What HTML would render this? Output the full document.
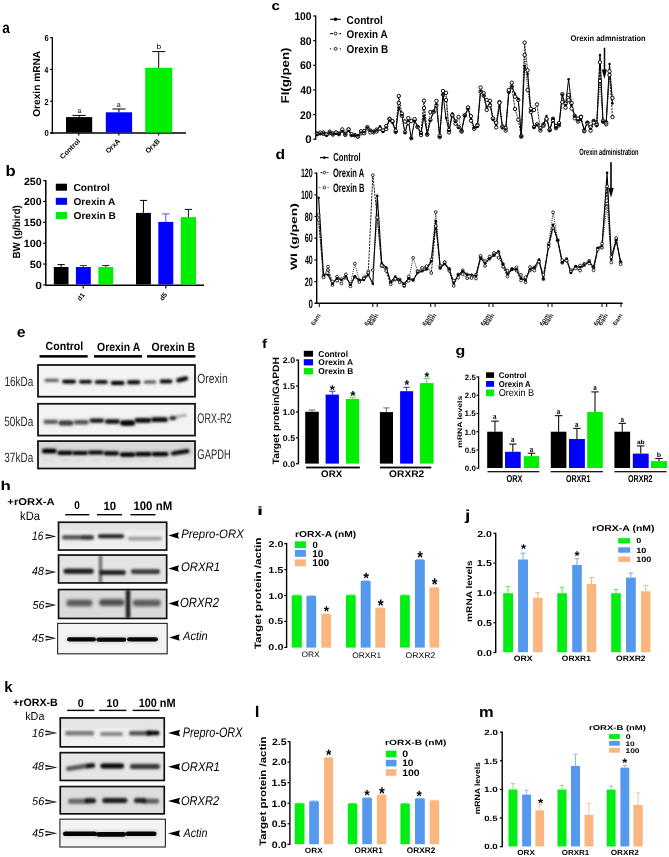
<!DOCTYPE html>
<html><head><meta charset="utf-8"><style>
html,body{margin:0;padding:0;background:#fff;}
body{width:669px;height:857px;overflow:hidden;}
svg{display:block;font-family:"Liberation Sans", sans-serif;text-rendering:geometricPrecision;filter:blur(0.3px);}
</style></head><body>
<svg width="669" height="857" viewBox="0 0 669 857">
<defs>
<filter id="b0" x="-30%" y="-100%" width="160%" height="300%"><feGaussianBlur stdDeviation="0.6"/></filter>
<filter id="b1" x="-30%" y="-100%" width="160%" height="300%"><feGaussianBlur stdDeviation="0.9"/></filter>
<filter id="b2" x="-30%" y="-100%" width="160%" height="300%"><feGaussianBlur stdDeviation="1.6"/></filter>
</defs>
<rect x="0" y="0" width="669" height="857" fill="#fff"/>
<text transform="matrix(0.8688,0,0,1,2.292,32.744)" font-size="15.636" font-weight="bold" fill="#000">a</text>
<line x1="52.35" y1="37.2" x2="52.35" y2="133.6" stroke="#000" stroke-width="1.3"/>
<line x1="50.3" y1="132.95" x2="186" y2="132.95" stroke="#000" stroke-width="1.4"/>
<line x1="50.050000000000004" y1="37.66" x2="52.35" y2="37.66" stroke="#000" stroke-width="1.1"/>
<text transform="matrix(0.8730,0,0,1,44.400,41.124)" font-size="8.592" font-weight="bold" fill="#000">6</text>
<line x1="50.050000000000004" y1="69.44" x2="52.35" y2="69.44" stroke="#000" stroke-width="1.1"/>
<text transform="matrix(0.7683,0,0,1,44.564,72.990)" font-size="8.841" font-weight="bold" fill="#000">4</text>
<line x1="50.050000000000004" y1="101.22" x2="52.35" y2="101.22" stroke="#000" stroke-width="1.1"/>
<text transform="matrix(0.8431,0,0,1,44.480,104.770)" font-size="8.714" font-weight="bold" fill="#000">2</text>
<line x1="50.050000000000004" y1="133.0" x2="52.35" y2="133.0" stroke="#000" stroke-width="1.1"/>
<text transform="matrix(0.8915,0,0,1,44.394,136.464)" font-size="8.592" font-weight="bold" fill="#000">0</text>
<text transform="matrix(0,-1.0020,1,0,39.599,116.806)" font-size="10.135" font-weight="bold" fill="#000">Orexin mRNA</text>
<rect x="66" y="117.1" width="26.200000000000003" height="15.400000000000006" fill="#000"/>
<line x1="79.1" y1="117.1" x2="79.1" y2="115.4" stroke="#000" stroke-width="1"/>
<line x1="72.5" y1="115.4" x2="85.69999999999999" y2="115.4" stroke="#000" stroke-width="1"/>
<rect x="105.8" y="112.3" width="26.299999999999997" height="20.200000000000003" fill="#0000ff"/>
<line x1="118.94999999999999" y1="112.3" x2="118.94999999999999" y2="109" stroke="#000" stroke-width="1"/>
<line x1="112.44999999999999" y1="109" x2="125.44999999999999" y2="109" stroke="#000" stroke-width="1"/>
<rect x="145.2" y="67.8" width="27.0" height="64.7" fill="#00ee00"/>
<line x1="158.7" y1="67.8" x2="158.7" y2="51.6" stroke="#000" stroke-width="1"/>
<line x1="152.2" y1="51.6" x2="165.2" y2="51.6" stroke="#000" stroke-width="1"/>
<text transform="matrix(0.9519,0,0,1,77.423,112.527)" font-size="7.273" font-weight="normal" fill="#000">a</text>
<text transform="matrix(0.9784,0,0,1,116.715,106.527)" font-size="7.273" font-weight="normal" fill="#000">a</text>
<text transform="matrix(1.1368,0,0,1,156.511,49.400)" font-size="7.397" font-weight="normal" fill="#000">b</text>
<line x1="78.8" y1="133" x2="78.8" y2="135.5" stroke="#000" stroke-width="1.1"/>
<text transform="translate(80.6,141.6) rotate(-45)" font-size="7.1" font-weight="bold" text-anchor="end" fill="#000">Control</text>
<line x1="118.9" y1="133" x2="118.9" y2="135.5" stroke="#000" stroke-width="1.1"/>
<text transform="translate(120.7,141.6) rotate(-45)" font-size="7.1" font-weight="bold" text-anchor="end" fill="#000">OrxA</text>
<line x1="158.6" y1="133" x2="158.6" y2="135.5" stroke="#000" stroke-width="1.1"/>
<text transform="translate(160.4,141.6) rotate(-45)" font-size="7.1" font-weight="bold" text-anchor="end" fill="#000">OrxB</text>
<text transform="matrix(1.0917,0,0,1,5.538,176.200)" font-size="15.205" font-weight="bold" fill="#000">b</text>
<line x1="45.8" y1="180.1" x2="45.8" y2="285.6" stroke="#000" stroke-width="1.5"/>
<line x1="45.199999999999996" y1="285.2" x2="204" y2="285.2" stroke="#000" stroke-width="1.6"/>
<line x1="43.199999999999996" y1="180.59999999999997" x2="45.8" y2="180.59999999999997" stroke="#000" stroke-width="1.2"/>
<text transform="matrix(1.0200,0,0,1,23.971,184.596)" font-size="10.423" font-weight="bold" fill="#000">250</text>
<line x1="43.199999999999996" y1="201.45999999999998" x2="45.8" y2="201.45999999999998" stroke="#000" stroke-width="1.2"/>
<text transform="matrix(1.0200,0,0,1,23.971,205.456)" font-size="10.423" font-weight="bold" fill="#000">200</text>
<line x1="43.199999999999996" y1="222.31999999999996" x2="45.8" y2="222.31999999999996" stroke="#000" stroke-width="1.2"/>
<text transform="matrix(1.0395,0,0,1,23.640,226.316)" font-size="10.423" font-weight="bold" fill="#000">150</text>
<line x1="43.199999999999996" y1="243.17999999999998" x2="45.8" y2="243.17999999999998" stroke="#000" stroke-width="1.2"/>
<text transform="matrix(1.0395,0,0,1,23.640,247.176)" font-size="10.423" font-weight="bold" fill="#000">100</text>
<line x1="43.199999999999996" y1="264.03999999999996" x2="45.8" y2="264.03999999999996" stroke="#000" stroke-width="1.2"/>
<text transform="matrix(1.0462,0,0,1,29.633,268.036)" font-size="10.423" font-weight="bold" fill="#000">50</text>
<line x1="43.199999999999996" y1="284.9" x2="45.8" y2="284.9" stroke="#000" stroke-width="1.2"/>
<text transform="matrix(1.1575,0,0,1,35.147,288.896)" font-size="10.423" font-weight="bold" fill="#000">0</text>
<text transform="matrix(0,-0.9519,1,0,20.011,258.595)" font-size="10.426" font-weight="bold" fill="#000">BW (g/bird)</text>
<rect x="55.8" y="183.7" width="11.2" height="7" fill="#000"/>
<text transform="matrix(1.0096,0,0,1,73.491,190.899)" font-size="10.135" font-weight="bold" fill="#000">Control</text>
<rect x="55.8" y="197.8" width="11.2" height="7" fill="#0000ff"/>
<text transform="matrix(1.0237,0,0,1,73.496,204.801)" font-size="9.865" font-weight="bold" fill="#000">Orexin A</text>
<rect x="55.8" y="211.9" width="11.2" height="7" fill="#00ee00"/>
<text transform="matrix(1.0311,0,0,1,73.493,218.901)" font-size="9.865" font-weight="bold" fill="#000">Orexin B</text>
<rect x="53.8" y="267" width="14.700000000000003" height="17.5" fill="#000"/>
<line x1="61.15" y1="267" x2="61.15" y2="264.6" stroke="#000" stroke-width="1"/>
<line x1="57.55" y1="264.6" x2="64.75" y2="264.6" stroke="#000" stroke-width="1"/>
<rect x="75.9" y="267" width="14.899999999999991" height="17.5" fill="#0000ff"/>
<line x1="83.35" y1="267" x2="83.35" y2="265.5" stroke="#2020ff" stroke-width="1"/>
<line x1="79.85" y1="265.5" x2="86.85" y2="265.5" stroke="#2020ff" stroke-width="1"/>
<rect x="98.4" y="267" width="14.799999999999997" height="17.5" fill="#00ee00"/>
<line x1="105.80000000000001" y1="267" x2="105.80000000000001" y2="265.5" stroke="#222" stroke-width="1"/>
<line x1="102.20000000000002" y1="265.5" x2="109.4" y2="265.5" stroke="#222" stroke-width="1"/>
<rect x="136" y="212.9" width="14.900000000000006" height="71.6" fill="#000"/>
<line x1="143.45" y1="212.9" x2="143.45" y2="200.4" stroke="#000" stroke-width="1"/>
<line x1="139.85" y1="200.4" x2="147.04999999999998" y2="200.4" stroke="#000" stroke-width="1"/>
<rect x="158.3" y="221.9" width="15.0" height="62.599999999999994" fill="#0000ff"/>
<line x1="165.8" y1="221.9" x2="165.8" y2="213.9" stroke="#5050ff" stroke-width="1"/>
<line x1="162.05" y1="213.9" x2="169.55" y2="213.9" stroke="#5050ff" stroke-width="1"/>
<rect x="180.8" y="217.1" width="15.199999999999989" height="67.4" fill="#00ee00"/>
<line x1="188.4" y1="217.1" x2="188.4" y2="209.4" stroke="#111" stroke-width="1"/>
<line x1="184.8" y1="209.4" x2="192.0" y2="209.4" stroke="#111" stroke-width="1"/>
<line x1="83.2" y1="285" x2="83.2" y2="288.4" stroke="#000" stroke-width="1.2"/>
<text transform="translate(80.241,301.240) rotate(-52)" font-size="6.728" font-weight="bold" fill="#000">d1</text>
<line x1="165.8" y1="285" x2="165.8" y2="288.4" stroke="#000" stroke-width="1.2"/>
<text transform="translate(162.755,300.950) rotate(-52)" font-size="6.845" font-weight="bold" fill="#000">d5</text>
<text transform="matrix(1.1699,0,0,1,271.596,10.171)" font-size="12.909" font-weight="bold" fill="#000">c</text>
<line x1="315.7" y1="15.6" x2="315.7" y2="139.7" stroke="#000" stroke-width="1.3"/>
<line x1="313.2" y1="139.2" x2="315.7" y2="139.2" stroke="#000" stroke-width="1.2"/>
<text transform="matrix(1.0197,0,0,1,305.340,143.287)" font-size="11.268" font-weight="bold" fill="#000">0</text>
<line x1="313.2" y1="114.55999999999999" x2="315.7" y2="114.55999999999999" stroke="#000" stroke-width="1.2"/>
<text transform="matrix(0.9216,0,0,1,300.088,118.647)" font-size="11.268" font-weight="bold" fill="#000">20</text>
<line x1="313.2" y1="89.91999999999999" x2="315.7" y2="89.91999999999999" stroke="#000" stroke-width="1.2"/>
<text transform="matrix(0.9129,0,0,1,300.194,94.007)" font-size="11.268" font-weight="bold" fill="#000">40</text>
<line x1="313.2" y1="65.27999999999999" x2="315.7" y2="65.27999999999999" stroke="#000" stroke-width="1.2"/>
<text transform="matrix(0.9306,0,0,1,299.981,69.367)" font-size="11.268" font-weight="bold" fill="#000">60</text>
<line x1="313.2" y1="40.639999999999986" x2="315.7" y2="40.639999999999986" stroke="#000" stroke-width="1.2"/>
<text transform="matrix(0.9216,0,0,1,300.088,44.727)" font-size="11.268" font-weight="bold" fill="#000">80</text>
<line x1="313.2" y1="15.999999999999986" x2="315.7" y2="15.999999999999986" stroke="#000" stroke-width="1.2"/>
<text transform="matrix(0.9158,0,0,1,294.381,20.087)" font-size="11.268" font-weight="bold" fill="#000">100</text>
<text transform="matrix(0,-1.1745,1,0,289.332,103.427)" font-size="11.277" font-weight="bold" fill="#000">FI(g/pen)</text>
<line x1="330.2" y1="19.3" x2="340.7" y2="19.3" stroke="#000" stroke-width="1.2"/>
<circle cx="335.5" cy="19.3" r="1.8" fill="#000"/>
<text transform="matrix(0.8963,0,0,1,346.593,23.586)" font-size="11.351" font-weight="bold" fill="#000">Control</text>
<line x1="330.2" y1="33.6" x2="333" y2="33.6" stroke="#000" stroke-width="1.1"/>
<circle cx="335.6" cy="33.6" r="1.4" fill="#fff" stroke="#000" stroke-width="0.9"/>
<line x1="339.6" y1="33.6" x2="341" y2="33.6" stroke="#000" stroke-width="1.1"/>
<text transform="matrix(0.8850,0,0,1,346.603,37.688)" font-size="11.216" font-weight="bold" fill="#000">Orexin A</text>
<rect x="330" y="48.3" width="1.1" height="1.1" fill="#000"/>
<circle cx="335.6" cy="48.8" r="1.4" fill="#fff" stroke="#000" stroke-width="0.9"/>
<rect x="339.8" y="48.3" width="1.1" height="1.1" fill="#000"/>
<text transform="matrix(0.8810,0,0,1,346.600,52.886)" font-size="11.351" font-weight="bold" fill="#000">Orexin B</text>
<polyline points="317.2,133.4 320.4,133.4 323.5,132.5 326.5,134.7 329.7,131.7 332.8,134.6 336.0,132.7 339.0,133.5 342.3,130.6 345.3,134.9 348.6,129.5 351.6,135.1 354.8,135.3 357.9,136.5 361.0,133.4 364.2,133.2 367.4,127.1 370.4,130.5 373.7,131.5 376.7,131.4 380.0,128.4 383.0,130.9 386.2,126.1 389.5,118.8 392.5,121.5 395.7,132.0 398.8,103.0 401.8,115.7 405.0,132.3 408.3,118.1 411.3,138.2 414.6,120.2 417.6,126.9 421.0,135.1 424.0,108.0 427.2,134.5 430.4,112.0 433.5,111.7 436.5,105.3 439.7,137.1 443.0,91.0 446.0,100.0 449.0,132.4 452.3,115.6 455.5,123.7 458.6,117.0 461.6,131.6 464.8,115.2 468.0,108.2 471.0,116.2 474.2,128.4 477.4,124.9 480.6,87.5 483.7,93.2 486.7,100.0 490.0,100.8 493.0,118.7 496.2,122.8 499.5,102.0 502.5,126.3 505.7,128.1 508.8,91.7 511.8,82.7 515.0,96.7 518.3,99.9 521.3,135.9 524.6,55.0 527.6,90.0 530.8,108.7 534.0,127.1 537.0,124.3 540.4,128.1 543.5,125.8 546.5,119.5 549.7,130.3 553.0,118.7 556.0,126.0 559.0,123.0 562.3,102.0 565.5,103.7 568.6,95.0 571.6,103.1 574.8,118.3 578.0,118.6 581.0,116.7 584.2,131.3 587.4,122.6 590.6,127.2 593.7,120.9 596.7,123.8 600.0,81.0 603.0,121.7 606.2,124.3 609.5,75.0 612.5,98.0" fill="none" stroke="#000" stroke-width="0.9" stroke-dasharray="1,1.2"/>
<polyline points="317.2,134.2 320.4,132.5 323.5,133.9 326.5,134.6 329.7,133.1 332.8,133.4 336.0,132.5 339.0,134.2 342.3,129.4 345.3,133.6 348.6,129.5 351.6,134.2 354.8,135.0 357.9,136.4 361.0,131.2 364.2,131.1 367.4,128.5 370.4,132.4 373.7,132.3 376.7,129.6 380.0,128.5 383.0,130.5 386.2,129.1 389.5,119.1 392.5,121.1 395.7,130.7 398.8,96.0 401.8,113.6 405.0,121.5 408.3,122.9 411.3,121.0 414.6,119.1 417.6,127.0 421.0,133.0 424.0,100.6 427.2,134.4 430.4,119.8 433.5,112.0 436.5,100.9 439.7,135.8 443.0,94.6 446.0,92.8 449.0,130.0 452.3,114.8 455.5,121.1 458.6,127.0 461.6,130.8 464.8,115.7 468.0,107.4 471.0,120.7 474.2,128.7 477.4,125.7 480.6,91.6 483.7,95.7 486.7,110.0 490.0,105.3 493.0,118.4 496.2,127.4 499.5,102.9 502.5,127.4 505.7,130.6 508.8,90.0 511.8,86.5 515.0,109.0 518.3,119.7 521.3,136.7 524.6,42.6 527.6,70.3 530.8,112.0 534.0,110.0 537.0,104.4 540.4,130.6 543.5,124.4 546.5,118.7 549.7,129.7 553.0,120.1 556.0,128.2 559.0,125.4 562.3,94.2 565.5,107.7 568.6,100.0 571.6,108.6 574.8,115.8 578.0,121.6 581.0,117.0 584.2,130.4 587.4,123.2 590.6,130.6 593.7,122.5 596.7,125.0 600.0,62.3 603.0,120.8 606.2,122.5 609.5,71.3 612.5,117.0" fill="none" stroke="#000" stroke-width="0.9" stroke-dasharray="2,1"/>
<polyline points="317.2,134.7 320.4,133.5 323.5,133.5 326.5,135.6 329.7,133.0 332.8,133.8 336.0,133.8 339.0,134.2 342.3,131.0 345.3,133.8 348.6,131.0 351.6,135.2 354.8,135.2 357.9,135.6 361.0,132.4 364.2,132.0 367.4,128.0 370.4,130.8 373.7,132.0 376.7,130.0 380.0,126.3 383.0,132.0 386.2,127.5 389.5,120.4 392.5,123.0 395.7,132.0 398.8,107.8 401.8,115.0 405.0,133.0 408.3,121.0 411.3,138.3 414.6,121.0 417.6,126.6 421.0,133.8 424.0,115.9 427.2,134.0 430.4,120.6 433.5,111.6 436.5,104.4 439.7,136.7 443.0,94.6 446.0,118.0 449.0,131.0 452.3,113.4 455.5,121.5 458.6,127.8 461.6,130.5 464.8,116.0 468.0,109.0 471.0,118.8 474.2,127.8 477.4,126.9 480.6,91.0 483.7,95.5 486.7,107.0 490.0,103.5 493.0,119.7 496.2,125.0 499.5,106.0 502.5,127.8 505.7,129.6 508.8,92.8 511.8,86.5 515.0,93.7 518.3,99.0 521.3,136.7 524.6,65.9 527.6,74.0 530.8,110.7 534.0,127.8 537.0,125.0 540.4,129.6 543.5,124.0 546.5,116.0 549.7,130.4 553.0,118.8 556.0,127.8 559.0,125.0 562.3,94.6 565.5,105.0 568.6,79.3 571.6,105.0 574.8,116.0 578.0,120.6 581.0,119.7 584.2,129.6 587.4,122.4 590.6,128.6 593.7,120.6 596.7,126.0 600.0,55.0 603.0,121.5 606.2,121.5 609.5,64.0 612.5,103.5" fill="none" stroke="#000" stroke-width="1"/>
<circle cx="317.2" cy="133.4" r="1.7" fill="#fff" stroke="#000" stroke-width="0.95"/>
<circle cx="320.4" cy="133.4" r="1.7" fill="#fff" stroke="#000" stroke-width="0.95"/>
<circle cx="323.5" cy="132.5" r="1.7" fill="#fff" stroke="#000" stroke-width="0.95"/>
<circle cx="326.5" cy="134.7" r="1.7" fill="#fff" stroke="#000" stroke-width="0.95"/>
<circle cx="329.7" cy="131.7" r="1.7" fill="#fff" stroke="#000" stroke-width="0.95"/>
<circle cx="332.8" cy="134.6" r="1.7" fill="#fff" stroke="#000" stroke-width="0.95"/>
<circle cx="336.0" cy="132.7" r="1.7" fill="#fff" stroke="#000" stroke-width="0.95"/>
<circle cx="339.0" cy="133.5" r="1.7" fill="#fff" stroke="#000" stroke-width="0.95"/>
<circle cx="342.3" cy="130.6" r="1.7" fill="#fff" stroke="#000" stroke-width="0.95"/>
<circle cx="345.3" cy="134.9" r="1.7" fill="#fff" stroke="#000" stroke-width="0.95"/>
<circle cx="348.6" cy="129.5" r="1.7" fill="#fff" stroke="#000" stroke-width="0.95"/>
<circle cx="351.6" cy="135.1" r="1.7" fill="#fff" stroke="#000" stroke-width="0.95"/>
<circle cx="354.8" cy="135.3" r="1.7" fill="#fff" stroke="#000" stroke-width="0.95"/>
<circle cx="357.9" cy="136.5" r="1.7" fill="#fff" stroke="#000" stroke-width="0.95"/>
<circle cx="361.0" cy="133.4" r="1.7" fill="#fff" stroke="#000" stroke-width="0.95"/>
<circle cx="364.2" cy="133.2" r="1.7" fill="#fff" stroke="#000" stroke-width="0.95"/>
<circle cx="367.4" cy="127.1" r="1.7" fill="#fff" stroke="#000" stroke-width="0.95"/>
<circle cx="370.4" cy="130.5" r="1.7" fill="#fff" stroke="#000" stroke-width="0.95"/>
<circle cx="373.7" cy="131.5" r="1.7" fill="#fff" stroke="#000" stroke-width="0.95"/>
<circle cx="376.7" cy="131.4" r="1.7" fill="#fff" stroke="#000" stroke-width="0.95"/>
<circle cx="380.0" cy="128.4" r="1.7" fill="#fff" stroke="#000" stroke-width="0.95"/>
<circle cx="383.0" cy="130.9" r="1.7" fill="#fff" stroke="#000" stroke-width="0.95"/>
<circle cx="386.2" cy="126.1" r="1.7" fill="#fff" stroke="#000" stroke-width="0.95"/>
<circle cx="389.5" cy="118.8" r="1.7" fill="#fff" stroke="#000" stroke-width="0.95"/>
<circle cx="392.5" cy="121.5" r="1.7" fill="#fff" stroke="#000" stroke-width="0.95"/>
<circle cx="395.7" cy="132.0" r="1.7" fill="#fff" stroke="#000" stroke-width="0.95"/>
<circle cx="398.8" cy="103.0" r="1.7" fill="#fff" stroke="#000" stroke-width="0.95"/>
<circle cx="401.8" cy="115.7" r="1.7" fill="#fff" stroke="#000" stroke-width="0.95"/>
<circle cx="405.0" cy="132.3" r="1.7" fill="#fff" stroke="#000" stroke-width="0.95"/>
<circle cx="408.3" cy="118.1" r="1.7" fill="#fff" stroke="#000" stroke-width="0.95"/>
<circle cx="411.3" cy="138.2" r="1.7" fill="#fff" stroke="#000" stroke-width="0.95"/>
<circle cx="414.6" cy="120.2" r="1.7" fill="#fff" stroke="#000" stroke-width="0.95"/>
<circle cx="417.6" cy="126.9" r="1.7" fill="#fff" stroke="#000" stroke-width="0.95"/>
<circle cx="421.0" cy="135.1" r="1.7" fill="#fff" stroke="#000" stroke-width="0.95"/>
<circle cx="424.0" cy="108.0" r="1.7" fill="#fff" stroke="#000" stroke-width="0.95"/>
<circle cx="427.2" cy="134.5" r="1.7" fill="#fff" stroke="#000" stroke-width="0.95"/>
<circle cx="430.4" cy="112.0" r="1.7" fill="#fff" stroke="#000" stroke-width="0.95"/>
<circle cx="433.5" cy="111.7" r="1.7" fill="#fff" stroke="#000" stroke-width="0.95"/>
<circle cx="436.5" cy="105.3" r="1.7" fill="#fff" stroke="#000" stroke-width="0.95"/>
<circle cx="439.7" cy="137.1" r="1.7" fill="#fff" stroke="#000" stroke-width="0.95"/>
<circle cx="443.0" cy="91.0" r="1.7" fill="#fff" stroke="#000" stroke-width="0.95"/>
<circle cx="446.0" cy="100.0" r="1.7" fill="#fff" stroke="#000" stroke-width="0.95"/>
<circle cx="449.0" cy="132.4" r="1.7" fill="#fff" stroke="#000" stroke-width="0.95"/>
<circle cx="452.3" cy="115.6" r="1.7" fill="#fff" stroke="#000" stroke-width="0.95"/>
<circle cx="455.5" cy="123.7" r="1.7" fill="#fff" stroke="#000" stroke-width="0.95"/>
<circle cx="458.6" cy="117.0" r="1.7" fill="#fff" stroke="#000" stroke-width="0.95"/>
<circle cx="461.6" cy="131.6" r="1.7" fill="#fff" stroke="#000" stroke-width="0.95"/>
<circle cx="464.8" cy="115.2" r="1.7" fill="#fff" stroke="#000" stroke-width="0.95"/>
<circle cx="468.0" cy="108.2" r="1.7" fill="#fff" stroke="#000" stroke-width="0.95"/>
<circle cx="471.0" cy="116.2" r="1.7" fill="#fff" stroke="#000" stroke-width="0.95"/>
<circle cx="474.2" cy="128.4" r="1.7" fill="#fff" stroke="#000" stroke-width="0.95"/>
<circle cx="477.4" cy="124.9" r="1.7" fill="#fff" stroke="#000" stroke-width="0.95"/>
<circle cx="480.6" cy="87.5" r="1.7" fill="#fff" stroke="#000" stroke-width="0.95"/>
<circle cx="483.7" cy="93.2" r="1.7" fill="#fff" stroke="#000" stroke-width="0.95"/>
<circle cx="486.7" cy="100.0" r="1.7" fill="#fff" stroke="#000" stroke-width="0.95"/>
<circle cx="490.0" cy="100.8" r="1.7" fill="#fff" stroke="#000" stroke-width="0.95"/>
<circle cx="493.0" cy="118.7" r="1.7" fill="#fff" stroke="#000" stroke-width="0.95"/>
<circle cx="496.2" cy="122.8" r="1.7" fill="#fff" stroke="#000" stroke-width="0.95"/>
<circle cx="499.5" cy="102.0" r="1.7" fill="#fff" stroke="#000" stroke-width="0.95"/>
<circle cx="502.5" cy="126.3" r="1.7" fill="#fff" stroke="#000" stroke-width="0.95"/>
<circle cx="505.7" cy="128.1" r="1.7" fill="#fff" stroke="#000" stroke-width="0.95"/>
<circle cx="508.8" cy="91.7" r="1.7" fill="#fff" stroke="#000" stroke-width="0.95"/>
<circle cx="511.8" cy="82.7" r="1.7" fill="#fff" stroke="#000" stroke-width="0.95"/>
<circle cx="515.0" cy="96.7" r="1.7" fill="#fff" stroke="#000" stroke-width="0.95"/>
<circle cx="518.3" cy="99.9" r="1.7" fill="#fff" stroke="#000" stroke-width="0.95"/>
<circle cx="521.3" cy="135.9" r="1.7" fill="#fff" stroke="#000" stroke-width="0.95"/>
<circle cx="524.6" cy="55.0" r="1.7" fill="#fff" stroke="#000" stroke-width="0.95"/>
<circle cx="527.6" cy="90.0" r="1.7" fill="#fff" stroke="#000" stroke-width="0.95"/>
<circle cx="530.8" cy="108.7" r="1.7" fill="#fff" stroke="#000" stroke-width="0.95"/>
<circle cx="534.0" cy="127.1" r="1.7" fill="#fff" stroke="#000" stroke-width="0.95"/>
<circle cx="537.0" cy="124.3" r="1.7" fill="#fff" stroke="#000" stroke-width="0.95"/>
<circle cx="540.4" cy="128.1" r="1.7" fill="#fff" stroke="#000" stroke-width="0.95"/>
<circle cx="543.5" cy="125.8" r="1.7" fill="#fff" stroke="#000" stroke-width="0.95"/>
<circle cx="546.5" cy="119.5" r="1.7" fill="#fff" stroke="#000" stroke-width="0.95"/>
<circle cx="549.7" cy="130.3" r="1.7" fill="#fff" stroke="#000" stroke-width="0.95"/>
<circle cx="553.0" cy="118.7" r="1.7" fill="#fff" stroke="#000" stroke-width="0.95"/>
<circle cx="556.0" cy="126.0" r="1.7" fill="#fff" stroke="#000" stroke-width="0.95"/>
<circle cx="559.0" cy="123.0" r="1.7" fill="#fff" stroke="#000" stroke-width="0.95"/>
<circle cx="562.3" cy="102.0" r="1.7" fill="#fff" stroke="#000" stroke-width="0.95"/>
<circle cx="565.5" cy="103.7" r="1.7" fill="#fff" stroke="#000" stroke-width="0.95"/>
<circle cx="568.6" cy="95.0" r="1.7" fill="#fff" stroke="#000" stroke-width="0.95"/>
<circle cx="571.6" cy="103.1" r="1.7" fill="#fff" stroke="#000" stroke-width="0.95"/>
<circle cx="574.8" cy="118.3" r="1.7" fill="#fff" stroke="#000" stroke-width="0.95"/>
<circle cx="578.0" cy="118.6" r="1.7" fill="#fff" stroke="#000" stroke-width="0.95"/>
<circle cx="581.0" cy="116.7" r="1.7" fill="#fff" stroke="#000" stroke-width="0.95"/>
<circle cx="584.2" cy="131.3" r="1.7" fill="#fff" stroke="#000" stroke-width="0.95"/>
<circle cx="587.4" cy="122.6" r="1.7" fill="#fff" stroke="#000" stroke-width="0.95"/>
<circle cx="590.6" cy="127.2" r="1.7" fill="#fff" stroke="#000" stroke-width="0.95"/>
<circle cx="593.7" cy="120.9" r="1.7" fill="#fff" stroke="#000" stroke-width="0.95"/>
<circle cx="596.7" cy="123.8" r="1.7" fill="#fff" stroke="#000" stroke-width="0.95"/>
<circle cx="600.0" cy="81.0" r="1.7" fill="#fff" stroke="#000" stroke-width="0.95"/>
<circle cx="603.0" cy="121.7" r="1.7" fill="#fff" stroke="#000" stroke-width="0.95"/>
<circle cx="606.2" cy="124.3" r="1.7" fill="#fff" stroke="#000" stroke-width="0.95"/>
<circle cx="609.5" cy="75.0" r="1.7" fill="#fff" stroke="#000" stroke-width="0.95"/>
<circle cx="612.5" cy="98.0" r="1.7" fill="#fff" stroke="#000" stroke-width="0.95"/>
<circle cx="317.2" cy="134.2" r="1.7" fill="#fff" stroke="#000" stroke-width="0.95"/>
<circle cx="320.4" cy="132.5" r="1.7" fill="#fff" stroke="#000" stroke-width="0.95"/>
<circle cx="323.5" cy="133.9" r="1.7" fill="#fff" stroke="#000" stroke-width="0.95"/>
<circle cx="326.5" cy="134.6" r="1.7" fill="#fff" stroke="#000" stroke-width="0.95"/>
<circle cx="329.7" cy="133.1" r="1.7" fill="#fff" stroke="#000" stroke-width="0.95"/>
<circle cx="332.8" cy="133.4" r="1.7" fill="#fff" stroke="#000" stroke-width="0.95"/>
<circle cx="336.0" cy="132.5" r="1.7" fill="#fff" stroke="#000" stroke-width="0.95"/>
<circle cx="339.0" cy="134.2" r="1.7" fill="#fff" stroke="#000" stroke-width="0.95"/>
<circle cx="342.3" cy="129.4" r="1.7" fill="#fff" stroke="#000" stroke-width="0.95"/>
<circle cx="345.3" cy="133.6" r="1.7" fill="#fff" stroke="#000" stroke-width="0.95"/>
<circle cx="348.6" cy="129.5" r="1.7" fill="#fff" stroke="#000" stroke-width="0.95"/>
<circle cx="351.6" cy="134.2" r="1.7" fill="#fff" stroke="#000" stroke-width="0.95"/>
<circle cx="354.8" cy="135.0" r="1.7" fill="#fff" stroke="#000" stroke-width="0.95"/>
<circle cx="357.9" cy="136.4" r="1.7" fill="#fff" stroke="#000" stroke-width="0.95"/>
<circle cx="361.0" cy="131.2" r="1.7" fill="#fff" stroke="#000" stroke-width="0.95"/>
<circle cx="364.2" cy="131.1" r="1.7" fill="#fff" stroke="#000" stroke-width="0.95"/>
<circle cx="367.4" cy="128.5" r="1.7" fill="#fff" stroke="#000" stroke-width="0.95"/>
<circle cx="370.4" cy="132.4" r="1.7" fill="#fff" stroke="#000" stroke-width="0.95"/>
<circle cx="373.7" cy="132.3" r="1.7" fill="#fff" stroke="#000" stroke-width="0.95"/>
<circle cx="376.7" cy="129.6" r="1.7" fill="#fff" stroke="#000" stroke-width="0.95"/>
<circle cx="380.0" cy="128.5" r="1.7" fill="#fff" stroke="#000" stroke-width="0.95"/>
<circle cx="383.0" cy="130.5" r="1.7" fill="#fff" stroke="#000" stroke-width="0.95"/>
<circle cx="386.2" cy="129.1" r="1.7" fill="#fff" stroke="#000" stroke-width="0.95"/>
<circle cx="389.5" cy="119.1" r="1.7" fill="#fff" stroke="#000" stroke-width="0.95"/>
<circle cx="392.5" cy="121.1" r="1.7" fill="#fff" stroke="#000" stroke-width="0.95"/>
<circle cx="395.7" cy="130.7" r="1.7" fill="#fff" stroke="#000" stroke-width="0.95"/>
<circle cx="398.8" cy="96.0" r="1.7" fill="#fff" stroke="#000" stroke-width="0.95"/>
<circle cx="401.8" cy="113.6" r="1.7" fill="#fff" stroke="#000" stroke-width="0.95"/>
<circle cx="405.0" cy="121.5" r="1.7" fill="#fff" stroke="#000" stroke-width="0.95"/>
<circle cx="408.3" cy="122.9" r="1.7" fill="#fff" stroke="#000" stroke-width="0.95"/>
<circle cx="411.3" cy="121.0" r="1.7" fill="#fff" stroke="#000" stroke-width="0.95"/>
<circle cx="414.6" cy="119.1" r="1.7" fill="#fff" stroke="#000" stroke-width="0.95"/>
<circle cx="417.6" cy="127.0" r="1.7" fill="#fff" stroke="#000" stroke-width="0.95"/>
<circle cx="421.0" cy="133.0" r="1.7" fill="#fff" stroke="#000" stroke-width="0.95"/>
<circle cx="424.0" cy="100.6" r="1.7" fill="#fff" stroke="#000" stroke-width="0.95"/>
<circle cx="427.2" cy="134.4" r="1.7" fill="#fff" stroke="#000" stroke-width="0.95"/>
<circle cx="430.4" cy="119.8" r="1.7" fill="#fff" stroke="#000" stroke-width="0.95"/>
<circle cx="433.5" cy="112.0" r="1.7" fill="#fff" stroke="#000" stroke-width="0.95"/>
<circle cx="436.5" cy="100.9" r="1.7" fill="#fff" stroke="#000" stroke-width="0.95"/>
<circle cx="439.7" cy="135.8" r="1.7" fill="#fff" stroke="#000" stroke-width="0.95"/>
<circle cx="443.0" cy="94.6" r="1.7" fill="#fff" stroke="#000" stroke-width="0.95"/>
<circle cx="446.0" cy="92.8" r="1.7" fill="#fff" stroke="#000" stroke-width="0.95"/>
<circle cx="449.0" cy="130.0" r="1.7" fill="#fff" stroke="#000" stroke-width="0.95"/>
<circle cx="452.3" cy="114.8" r="1.7" fill="#fff" stroke="#000" stroke-width="0.95"/>
<circle cx="455.5" cy="121.1" r="1.7" fill="#fff" stroke="#000" stroke-width="0.95"/>
<circle cx="458.6" cy="127.0" r="1.7" fill="#fff" stroke="#000" stroke-width="0.95"/>
<circle cx="461.6" cy="130.8" r="1.7" fill="#fff" stroke="#000" stroke-width="0.95"/>
<circle cx="464.8" cy="115.7" r="1.7" fill="#fff" stroke="#000" stroke-width="0.95"/>
<circle cx="468.0" cy="107.4" r="1.7" fill="#fff" stroke="#000" stroke-width="0.95"/>
<circle cx="471.0" cy="120.7" r="1.7" fill="#fff" stroke="#000" stroke-width="0.95"/>
<circle cx="474.2" cy="128.7" r="1.7" fill="#fff" stroke="#000" stroke-width="0.95"/>
<circle cx="477.4" cy="125.7" r="1.7" fill="#fff" stroke="#000" stroke-width="0.95"/>
<circle cx="480.6" cy="91.6" r="1.7" fill="#fff" stroke="#000" stroke-width="0.95"/>
<circle cx="483.7" cy="95.7" r="1.7" fill="#fff" stroke="#000" stroke-width="0.95"/>
<circle cx="486.7" cy="110.0" r="1.7" fill="#fff" stroke="#000" stroke-width="0.95"/>
<circle cx="490.0" cy="105.3" r="1.7" fill="#fff" stroke="#000" stroke-width="0.95"/>
<circle cx="493.0" cy="118.4" r="1.7" fill="#fff" stroke="#000" stroke-width="0.95"/>
<circle cx="496.2" cy="127.4" r="1.7" fill="#fff" stroke="#000" stroke-width="0.95"/>
<circle cx="499.5" cy="102.9" r="1.7" fill="#fff" stroke="#000" stroke-width="0.95"/>
<circle cx="502.5" cy="127.4" r="1.7" fill="#fff" stroke="#000" stroke-width="0.95"/>
<circle cx="505.7" cy="130.6" r="1.7" fill="#fff" stroke="#000" stroke-width="0.95"/>
<circle cx="508.8" cy="90.0" r="1.7" fill="#fff" stroke="#000" stroke-width="0.95"/>
<circle cx="511.8" cy="86.5" r="1.7" fill="#fff" stroke="#000" stroke-width="0.95"/>
<circle cx="515.0" cy="109.0" r="1.7" fill="#fff" stroke="#000" stroke-width="0.95"/>
<circle cx="518.3" cy="119.7" r="1.7" fill="#fff" stroke="#000" stroke-width="0.95"/>
<circle cx="521.3" cy="136.7" r="1.7" fill="#fff" stroke="#000" stroke-width="0.95"/>
<circle cx="524.6" cy="42.6" r="1.7" fill="#fff" stroke="#000" stroke-width="0.95"/>
<circle cx="527.6" cy="70.3" r="1.7" fill="#fff" stroke="#000" stroke-width="0.95"/>
<circle cx="530.8" cy="112.0" r="1.7" fill="#fff" stroke="#000" stroke-width="0.95"/>
<circle cx="534.0" cy="110.0" r="1.7" fill="#fff" stroke="#000" stroke-width="0.95"/>
<circle cx="537.0" cy="104.4" r="1.7" fill="#fff" stroke="#000" stroke-width="0.95"/>
<circle cx="540.4" cy="130.6" r="1.7" fill="#fff" stroke="#000" stroke-width="0.95"/>
<circle cx="543.5" cy="124.4" r="1.7" fill="#fff" stroke="#000" stroke-width="0.95"/>
<circle cx="546.5" cy="118.7" r="1.7" fill="#fff" stroke="#000" stroke-width="0.95"/>
<circle cx="549.7" cy="129.7" r="1.7" fill="#fff" stroke="#000" stroke-width="0.95"/>
<circle cx="553.0" cy="120.1" r="1.7" fill="#fff" stroke="#000" stroke-width="0.95"/>
<circle cx="556.0" cy="128.2" r="1.7" fill="#fff" stroke="#000" stroke-width="0.95"/>
<circle cx="559.0" cy="125.4" r="1.7" fill="#fff" stroke="#000" stroke-width="0.95"/>
<circle cx="562.3" cy="94.2" r="1.7" fill="#fff" stroke="#000" stroke-width="0.95"/>
<circle cx="565.5" cy="107.7" r="1.7" fill="#fff" stroke="#000" stroke-width="0.95"/>
<circle cx="568.6" cy="100.0" r="1.7" fill="#fff" stroke="#000" stroke-width="0.95"/>
<circle cx="571.6" cy="108.6" r="1.7" fill="#fff" stroke="#000" stroke-width="0.95"/>
<circle cx="574.8" cy="115.8" r="1.7" fill="#fff" stroke="#000" stroke-width="0.95"/>
<circle cx="578.0" cy="121.6" r="1.7" fill="#fff" stroke="#000" stroke-width="0.95"/>
<circle cx="581.0" cy="117.0" r="1.7" fill="#fff" stroke="#000" stroke-width="0.95"/>
<circle cx="584.2" cy="130.4" r="1.7" fill="#fff" stroke="#000" stroke-width="0.95"/>
<circle cx="587.4" cy="123.2" r="1.7" fill="#fff" stroke="#000" stroke-width="0.95"/>
<circle cx="590.6" cy="130.6" r="1.7" fill="#fff" stroke="#000" stroke-width="0.95"/>
<circle cx="593.7" cy="122.5" r="1.7" fill="#fff" stroke="#000" stroke-width="0.95"/>
<circle cx="596.7" cy="125.0" r="1.7" fill="#fff" stroke="#000" stroke-width="0.95"/>
<circle cx="600.0" cy="62.3" r="1.7" fill="#fff" stroke="#000" stroke-width="0.95"/>
<circle cx="603.0" cy="120.8" r="1.7" fill="#fff" stroke="#000" stroke-width="0.95"/>
<circle cx="606.2" cy="122.5" r="1.7" fill="#fff" stroke="#000" stroke-width="0.95"/>
<circle cx="609.5" cy="71.3" r="1.7" fill="#fff" stroke="#000" stroke-width="0.95"/>
<circle cx="612.5" cy="117.0" r="1.7" fill="#fff" stroke="#000" stroke-width="0.95"/>
<circle cx="317.2" cy="134.7" r="1.2" fill="#000"/>
<circle cx="320.4" cy="133.5" r="1.2" fill="#000"/>
<circle cx="323.5" cy="133.5" r="1.2" fill="#000"/>
<circle cx="326.5" cy="135.6" r="1.2" fill="#000"/>
<circle cx="329.7" cy="133.0" r="1.2" fill="#000"/>
<circle cx="332.8" cy="133.8" r="1.2" fill="#000"/>
<circle cx="336.0" cy="133.8" r="1.2" fill="#000"/>
<circle cx="339.0" cy="134.2" r="1.2" fill="#000"/>
<circle cx="342.3" cy="131.0" r="1.2" fill="#000"/>
<circle cx="345.3" cy="133.8" r="1.2" fill="#000"/>
<circle cx="348.6" cy="131.0" r="1.2" fill="#000"/>
<circle cx="351.6" cy="135.2" r="1.2" fill="#000"/>
<circle cx="354.8" cy="135.2" r="1.2" fill="#000"/>
<circle cx="357.9" cy="135.6" r="1.2" fill="#000"/>
<circle cx="361.0" cy="132.4" r="1.2" fill="#000"/>
<circle cx="364.2" cy="132.0" r="1.2" fill="#000"/>
<circle cx="367.4" cy="128.0" r="1.2" fill="#000"/>
<circle cx="370.4" cy="130.8" r="1.2" fill="#000"/>
<circle cx="373.7" cy="132.0" r="1.2" fill="#000"/>
<circle cx="376.7" cy="130.0" r="1.2" fill="#000"/>
<circle cx="380.0" cy="126.3" r="1.2" fill="#000"/>
<circle cx="383.0" cy="132.0" r="1.2" fill="#000"/>
<circle cx="386.2" cy="127.5" r="1.2" fill="#000"/>
<circle cx="389.5" cy="120.4" r="1.2" fill="#000"/>
<circle cx="392.5" cy="123.0" r="1.2" fill="#000"/>
<circle cx="395.7" cy="132.0" r="1.2" fill="#000"/>
<circle cx="398.8" cy="107.8" r="1.2" fill="#000"/>
<circle cx="401.8" cy="115.0" r="1.2" fill="#000"/>
<circle cx="405.0" cy="133.0" r="1.2" fill="#000"/>
<circle cx="408.3" cy="121.0" r="1.2" fill="#000"/>
<circle cx="411.3" cy="138.3" r="1.2" fill="#000"/>
<circle cx="414.6" cy="121.0" r="1.2" fill="#000"/>
<circle cx="417.6" cy="126.6" r="1.2" fill="#000"/>
<circle cx="421.0" cy="133.8" r="1.2" fill="#000"/>
<circle cx="424.0" cy="115.9" r="1.2" fill="#000"/>
<circle cx="427.2" cy="134.0" r="1.2" fill="#000"/>
<circle cx="430.4" cy="120.6" r="1.2" fill="#000"/>
<circle cx="433.5" cy="111.6" r="1.2" fill="#000"/>
<circle cx="436.5" cy="104.4" r="1.2" fill="#000"/>
<circle cx="439.7" cy="136.7" r="1.2" fill="#000"/>
<circle cx="443.0" cy="94.6" r="1.2" fill="#000"/>
<circle cx="446.0" cy="118.0" r="1.2" fill="#000"/>
<circle cx="449.0" cy="131.0" r="1.2" fill="#000"/>
<circle cx="452.3" cy="113.4" r="1.2" fill="#000"/>
<circle cx="455.5" cy="121.5" r="1.2" fill="#000"/>
<circle cx="458.6" cy="127.8" r="1.2" fill="#000"/>
<circle cx="461.6" cy="130.5" r="1.2" fill="#000"/>
<circle cx="464.8" cy="116.0" r="1.2" fill="#000"/>
<circle cx="468.0" cy="109.0" r="1.2" fill="#000"/>
<circle cx="471.0" cy="118.8" r="1.2" fill="#000"/>
<circle cx="474.2" cy="127.8" r="1.2" fill="#000"/>
<circle cx="477.4" cy="126.9" r="1.2" fill="#000"/>
<circle cx="480.6" cy="91.0" r="1.2" fill="#000"/>
<circle cx="483.7" cy="95.5" r="1.2" fill="#000"/>
<circle cx="486.7" cy="107.0" r="1.2" fill="#000"/>
<circle cx="490.0" cy="103.5" r="1.2" fill="#000"/>
<circle cx="493.0" cy="119.7" r="1.2" fill="#000"/>
<circle cx="496.2" cy="125.0" r="1.2" fill="#000"/>
<circle cx="499.5" cy="106.0" r="1.2" fill="#000"/>
<circle cx="502.5" cy="127.8" r="1.2" fill="#000"/>
<circle cx="505.7" cy="129.6" r="1.2" fill="#000"/>
<circle cx="508.8" cy="92.8" r="1.2" fill="#000"/>
<circle cx="511.8" cy="86.5" r="1.2" fill="#000"/>
<circle cx="515.0" cy="93.7" r="1.2" fill="#000"/>
<circle cx="518.3" cy="99.0" r="1.2" fill="#000"/>
<circle cx="521.3" cy="136.7" r="1.2" fill="#000"/>
<circle cx="524.6" cy="65.9" r="1.2" fill="#000"/>
<circle cx="527.6" cy="74.0" r="1.2" fill="#000"/>
<circle cx="530.8" cy="110.7" r="1.2" fill="#000"/>
<circle cx="534.0" cy="127.8" r="1.2" fill="#000"/>
<circle cx="537.0" cy="125.0" r="1.2" fill="#000"/>
<circle cx="540.4" cy="129.6" r="1.2" fill="#000"/>
<circle cx="543.5" cy="124.0" r="1.2" fill="#000"/>
<circle cx="546.5" cy="116.0" r="1.2" fill="#000"/>
<circle cx="549.7" cy="130.4" r="1.2" fill="#000"/>
<circle cx="553.0" cy="118.8" r="1.2" fill="#000"/>
<circle cx="556.0" cy="127.8" r="1.2" fill="#000"/>
<circle cx="559.0" cy="125.0" r="1.2" fill="#000"/>
<circle cx="562.3" cy="94.6" r="1.2" fill="#000"/>
<circle cx="565.5" cy="105.0" r="1.2" fill="#000"/>
<circle cx="568.6" cy="79.3" r="1.2" fill="#000"/>
<circle cx="571.6" cy="105.0" r="1.2" fill="#000"/>
<circle cx="574.8" cy="116.0" r="1.2" fill="#000"/>
<circle cx="578.0" cy="120.6" r="1.2" fill="#000"/>
<circle cx="581.0" cy="119.7" r="1.2" fill="#000"/>
<circle cx="584.2" cy="129.6" r="1.2" fill="#000"/>
<circle cx="587.4" cy="122.4" r="1.2" fill="#000"/>
<circle cx="590.6" cy="128.6" r="1.2" fill="#000"/>
<circle cx="593.7" cy="120.6" r="1.2" fill="#000"/>
<circle cx="596.7" cy="126.0" r="1.2" fill="#000"/>
<circle cx="600.0" cy="55.0" r="1.2" fill="#000"/>
<circle cx="603.0" cy="121.5" r="1.2" fill="#000"/>
<circle cx="606.2" cy="121.5" r="1.2" fill="#000"/>
<circle cx="609.5" cy="64.0" r="1.2" fill="#000"/>
<circle cx="612.5" cy="103.5" r="1.2" fill="#000"/>
<text transform="matrix(0.9086,0,0,1,570.400,41.118)" font-size="8.243" font-weight="bold" fill="#000">Orexin admnistration</text>
<line x1="604.5" y1="47.8" x2="604.5" y2="72" stroke="#000" stroke-width="1.5"/>
<polygon points="601.8,69.4 607,69.4 604.4,78.9" fill="#000"/>
<text transform="matrix(1.1275,0,0,1,275.476,159.100)" font-size="13.836" font-weight="bold" fill="#000">d</text>
<line x1="316.7" y1="172.6" x2="316.7" y2="303.9" stroke="#000" stroke-width="1.4"/>
<line x1="315.2" y1="303.25" x2="622.7" y2="303.25" stroke="#000" stroke-width="1.5"/>
<line x1="314.4" y1="303.3" x2="316.7" y2="303.3" stroke="#000" stroke-width="1.2"/>
<text transform="matrix(0.6552,0,0,1,308.453,307.579)" font-size="12.113" font-weight="bold" fill="#000">0</text>
<line x1="314.4" y1="281.6" x2="316.7" y2="281.6" stroke="#000" stroke-width="1.2"/>
<text transform="matrix(0.5922,0,0,1,304.825,285.879)" font-size="12.113" font-weight="bold" fill="#000">20</text>
<line x1="314.4" y1="259.90000000000003" x2="316.7" y2="259.90000000000003" stroke="#000" stroke-width="1.2"/>
<text transform="matrix(0.5866,0,0,1,304.898,264.179)" font-size="12.113" font-weight="bold" fill="#000">40</text>
<line x1="314.4" y1="238.20000000000002" x2="316.7" y2="238.20000000000002" stroke="#000" stroke-width="1.2"/>
<text transform="matrix(0.5979,0,0,1,304.750,242.479)" font-size="12.113" font-weight="bold" fill="#000">60</text>
<line x1="314.4" y1="216.5" x2="316.7" y2="216.5" stroke="#000" stroke-width="1.2"/>
<text transform="matrix(0.5922,0,0,1,304.825,220.779)" font-size="12.113" font-weight="bold" fill="#000">80</text>
<line x1="314.4" y1="194.8" x2="316.7" y2="194.8" stroke="#000" stroke-width="1.2"/>
<text transform="matrix(0.5884,0,0,1,300.882,199.079)" font-size="12.113" font-weight="bold" fill="#000">100</text>
<line x1="314.4" y1="173.10000000000002" x2="316.7" y2="173.10000000000002" stroke="#000" stroke-width="1.2"/>
<text transform="matrix(0.5884,0,0,1,300.882,177.379)" font-size="12.113" font-weight="bold" fill="#000">120</text>
<text transform="matrix(0,-1.4964,1,0,296.856,270.100)" font-size="9.255" font-weight="bold" fill="#000">WI (g/pen)</text>
<line x1="320" y1="157.6" x2="328.6" y2="157.6" stroke="#000" stroke-width="1.2"/>
<circle cx="324.4" cy="157.6" r="1.3" fill="#000"/>
<text transform="matrix(0.6761,0,0,1,333.293,161.486)" font-size="11.351" font-weight="bold" fill="#000">Control</text>
<line x1="320.6" y1="172.6" x2="322" y2="172.6" stroke="#000" stroke-width="1"/>
<circle cx="324.3" cy="172.6" r="1.3" fill="#fff" stroke="#000" stroke-width="0.8"/>
<line x1="326.8" y1="172.6" x2="328.4" y2="172.6" stroke="#000" stroke-width="0.8"/>
<text transform="matrix(0.6287,0,0,1,332.998,176.680)" font-size="12.027" font-weight="bold" fill="#000">Orexin A</text>
<rect x="319.4" y="187.2" width="0.9" height="0.9" fill="#000"/>
<circle cx="324.4" cy="187.6" r="1.3" fill="#fff" stroke="#000" stroke-width="0.8"/>
<rect x="327.6" y="187.2" width="0.9" height="0.9" fill="#000"/>
<text transform="matrix(0.6187,0,0,1,332.999,191.878)" font-size="12.162" font-weight="bold" fill="#000">Orexin B</text>
<line x1="319.3" y1="303.2" x2="319.3" y2="307" stroke="#000" stroke-width="1"/>
<line x1="372.8" y1="303.2" x2="372.8" y2="307" stroke="#000" stroke-width="1"/>
<line x1="377.2" y1="303.2" x2="377.2" y2="307" stroke="#000" stroke-width="1"/>
<line x1="430.7" y1="303.2" x2="430.7" y2="307" stroke="#000" stroke-width="1"/>
<line x1="435.1" y1="303.2" x2="435.1" y2="307" stroke="#000" stroke-width="1"/>
<line x1="489" y1="303.2" x2="489" y2="307" stroke="#000" stroke-width="1"/>
<line x1="493" y1="303.2" x2="493" y2="307" stroke="#000" stroke-width="1"/>
<line x1="548" y1="303.2" x2="548" y2="307" stroke="#000" stroke-width="1"/>
<line x1="552" y1="303.2" x2="552" y2="307" stroke="#000" stroke-width="1"/>
<line x1="602" y1="303.2" x2="602" y2="307" stroke="#000" stroke-width="1"/>
<line x1="606.7" y1="303.2" x2="606.7" y2="307" stroke="#000" stroke-width="1"/>
<line x1="621" y1="303.2" x2="621" y2="307" stroke="#000" stroke-width="1"/>
<text transform="translate(320.90000000000003,315.2) rotate(-58)" font-size="6.3" font-weight="bold" text-anchor="end" fill="#222">6am</text>
<text transform="translate(374.40000000000003,315.2) rotate(-58)" font-size="6.3" font-weight="bold" text-anchor="end" fill="#222">6pm</text>
<text transform="translate(378.8,315.2) rotate(-58)" font-size="6.3" font-weight="bold" text-anchor="end" fill="#222">6am</text>
<text transform="translate(432.3,315.2) rotate(-58)" font-size="6.3" font-weight="bold" text-anchor="end" fill="#222">6pm</text>
<text transform="translate(436.70000000000005,315.2) rotate(-58)" font-size="6.3" font-weight="bold" text-anchor="end" fill="#222">6am</text>
<text transform="translate(490.6,315.2) rotate(-58)" font-size="6.3" font-weight="bold" text-anchor="end" fill="#222">6pm</text>
<text transform="translate(494.6,315.2) rotate(-58)" font-size="6.3" font-weight="bold" text-anchor="end" fill="#222">6am</text>
<text transform="translate(549.6,315.2) rotate(-58)" font-size="6.3" font-weight="bold" text-anchor="end" fill="#222">6pm</text>
<text transform="translate(553.6,315.2) rotate(-58)" font-size="6.3" font-weight="bold" text-anchor="end" fill="#222">6am</text>
<text transform="translate(603.6,315.2) rotate(-58)" font-size="6.3" font-weight="bold" text-anchor="end" fill="#222">6pm</text>
<text transform="translate(608.3000000000001,315.2) rotate(-58)" font-size="6.3" font-weight="bold" text-anchor="end" fill="#222">6am</text>
<text transform="translate(622.6,315.2) rotate(-58)" font-size="6.3" font-weight="bold" text-anchor="end" fill="#222">6am</text>
<polyline points="318.6,215.0 323.5,276.9 328.0,266.7 332.4,281.6 337.0,280.7 341.4,283.4 345.9,277.7 350.4,283.8 354.8,263.7 359.3,280.3 363.8,277.4 368.3,271.4 372.8,270.0 377.3,217.4 381.7,266.3 386.2,268.6 390.7,282.2 395.2,279.6 399.7,279.5 404.2,286.1 408.7,280.7 413.1,257.8 417.6,271.0 422.1,269.5 426.6,268.0 431.3,259.5 435.8,212.0 440.2,268.2 444.7,262.3 449.2,268.8 453.7,280.6 458.2,277.7 462.7,270.2 467.2,274.5 471.6,275.4 476.0,278.5 480.6,257.2 485.0,265.9 489.6,258.6 494.0,255.2 498.5,257.8 503.0,264.2 507.5,270.6 512.0,269.0 516.5,267.2 521.0,274.9 525.5,282.3 530.0,267.1 534.4,267.4 539.0,261.2 543.4,279.2 548.7,243.8 553.1,212.3 557.7,240.4 562.2,262.8 566.6,260.6 570.9,270.2 575.7,266.7 580.1,265.5 584.3,263.7 589.2,263.4 593.6,267.4 597.8,248.4 602.0,247.8 607.1,203.6 611.3,262.5 616.2,239.9 620.6,262.3" fill="none" stroke="#000" stroke-width="0.9" stroke-dasharray="1,1.2"/>
<polyline points="318.6,220.0 323.5,277.3 328.0,270.0 332.4,285.0 337.0,276.7 341.4,279.1 345.9,274.3 350.4,286.3 354.8,276.8 359.3,282.0 363.8,278.8 368.3,272.9 372.8,175.2 377.3,217.4 381.7,265.2 386.2,271.0 390.7,284.3 395.2,278.7 399.7,282.2 404.2,285.3 408.7,276.5 413.1,280.1 417.6,272.0 422.1,267.9 426.6,266.1 431.3,273.0 435.8,226.0 440.2,266.1 444.7,262.3 449.2,270.7 453.7,285.9 458.2,274.4 462.7,274.3 467.2,278.2 471.6,278.0 476.0,274.8 480.6,255.8 485.0,261.1 489.6,256.5 494.0,252.9 498.5,252.4 503.0,266.8 507.5,276.4 512.0,269.3 516.5,270.5 521.0,280.5 525.5,277.3 530.0,270.5 534.4,270.5 539.0,261.6 543.4,274.8 548.7,246.8 553.1,228.0 557.7,240.1 562.2,260.1 566.6,260.6 570.9,271.8 575.7,268.4 580.1,270.6 584.3,264.6 589.2,260.8 593.6,270.4 597.8,249.6 602.0,243.7 607.1,186.3 611.3,257.0 616.2,237.9 620.6,264.3" fill="none" stroke="#000" stroke-width="0.9" stroke-dasharray="2.2,1"/>
<polyline points="318.6,197.7 323.5,274.8 328.0,274.8 332.4,283.8 337.0,278.4 341.4,280.0 345.9,276.6 350.4,284.7 354.8,276.6 359.3,280.0 363.8,280.0 368.3,274.8 372.8,283.8 377.3,195.9 381.7,263.0 386.2,267.6 390.7,282.0 395.2,276.6 399.7,280.0 404.2,283.8 408.7,278.4 413.1,280.0 417.6,273.0 422.1,271.2 426.6,269.4 431.3,261.3 435.8,221.0 440.2,267.6 444.7,264.0 449.2,269.4 453.7,283.0 458.2,274.8 462.7,271.2 467.2,274.8 471.6,274.8 476.0,275.7 480.6,257.8 485.0,263.0 489.6,258.6 494.0,255.0 498.5,251.5 503.0,264.0 507.5,274.0 512.0,269.4 516.5,269.4 521.0,278.4 525.5,280.2 530.0,269.4 534.4,267.6 539.0,259.6 543.4,278.8 548.7,245.0 553.1,224.8 557.7,240.3 562.2,262.4 566.6,258.6 570.9,273.0 575.7,266.3 580.1,267.3 584.3,265.3 589.2,261.5 593.6,267.3 597.8,248.0 602.0,246.0 607.1,172.8 611.3,259.6 616.2,240.3 620.6,261.5" fill="none" stroke="#000" stroke-width="1.1"/>
<circle cx="318.6" cy="215.0" r="1.4" fill="#fff" stroke="#000" stroke-width="0.8"/>
<circle cx="323.5" cy="276.9" r="1.4" fill="#fff" stroke="#000" stroke-width="0.8"/>
<circle cx="328.0" cy="266.7" r="1.4" fill="#fff" stroke="#000" stroke-width="0.8"/>
<circle cx="332.4" cy="281.6" r="1.4" fill="#fff" stroke="#000" stroke-width="0.8"/>
<circle cx="337.0" cy="280.7" r="1.4" fill="#fff" stroke="#000" stroke-width="0.8"/>
<circle cx="341.4" cy="283.4" r="1.4" fill="#fff" stroke="#000" stroke-width="0.8"/>
<circle cx="345.9" cy="277.7" r="1.4" fill="#fff" stroke="#000" stroke-width="0.8"/>
<circle cx="350.4" cy="283.8" r="1.4" fill="#fff" stroke="#000" stroke-width="0.8"/>
<circle cx="354.8" cy="263.7" r="1.4" fill="#fff" stroke="#000" stroke-width="0.8"/>
<circle cx="359.3" cy="280.3" r="1.4" fill="#fff" stroke="#000" stroke-width="0.8"/>
<circle cx="363.8" cy="277.4" r="1.4" fill="#fff" stroke="#000" stroke-width="0.8"/>
<circle cx="368.3" cy="271.4" r="1.4" fill="#fff" stroke="#000" stroke-width="0.8"/>
<circle cx="372.8" cy="270.0" r="1.4" fill="#fff" stroke="#000" stroke-width="0.8"/>
<circle cx="377.3" cy="217.4" r="1.4" fill="#fff" stroke="#000" stroke-width="0.8"/>
<circle cx="381.7" cy="266.3" r="1.4" fill="#fff" stroke="#000" stroke-width="0.8"/>
<circle cx="386.2" cy="268.6" r="1.4" fill="#fff" stroke="#000" stroke-width="0.8"/>
<circle cx="390.7" cy="282.2" r="1.4" fill="#fff" stroke="#000" stroke-width="0.8"/>
<circle cx="395.2" cy="279.6" r="1.4" fill="#fff" stroke="#000" stroke-width="0.8"/>
<circle cx="399.7" cy="279.5" r="1.4" fill="#fff" stroke="#000" stroke-width="0.8"/>
<circle cx="404.2" cy="286.1" r="1.4" fill="#fff" stroke="#000" stroke-width="0.8"/>
<circle cx="408.7" cy="280.7" r="1.4" fill="#fff" stroke="#000" stroke-width="0.8"/>
<circle cx="413.1" cy="257.8" r="1.4" fill="#fff" stroke="#000" stroke-width="0.8"/>
<circle cx="417.6" cy="271.0" r="1.4" fill="#fff" stroke="#000" stroke-width="0.8"/>
<circle cx="422.1" cy="269.5" r="1.4" fill="#fff" stroke="#000" stroke-width="0.8"/>
<circle cx="426.6" cy="268.0" r="1.4" fill="#fff" stroke="#000" stroke-width="0.8"/>
<circle cx="431.3" cy="259.5" r="1.4" fill="#fff" stroke="#000" stroke-width="0.8"/>
<circle cx="435.8" cy="212.0" r="1.4" fill="#fff" stroke="#000" stroke-width="0.8"/>
<circle cx="440.2" cy="268.2" r="1.4" fill="#fff" stroke="#000" stroke-width="0.8"/>
<circle cx="444.7" cy="262.3" r="1.4" fill="#fff" stroke="#000" stroke-width="0.8"/>
<circle cx="449.2" cy="268.8" r="1.4" fill="#fff" stroke="#000" stroke-width="0.8"/>
<circle cx="453.7" cy="280.6" r="1.4" fill="#fff" stroke="#000" stroke-width="0.8"/>
<circle cx="458.2" cy="277.7" r="1.4" fill="#fff" stroke="#000" stroke-width="0.8"/>
<circle cx="462.7" cy="270.2" r="1.4" fill="#fff" stroke="#000" stroke-width="0.8"/>
<circle cx="467.2" cy="274.5" r="1.4" fill="#fff" stroke="#000" stroke-width="0.8"/>
<circle cx="471.6" cy="275.4" r="1.4" fill="#fff" stroke="#000" stroke-width="0.8"/>
<circle cx="476.0" cy="278.5" r="1.4" fill="#fff" stroke="#000" stroke-width="0.8"/>
<circle cx="480.6" cy="257.2" r="1.4" fill="#fff" stroke="#000" stroke-width="0.8"/>
<circle cx="485.0" cy="265.9" r="1.4" fill="#fff" stroke="#000" stroke-width="0.8"/>
<circle cx="489.6" cy="258.6" r="1.4" fill="#fff" stroke="#000" stroke-width="0.8"/>
<circle cx="494.0" cy="255.2" r="1.4" fill="#fff" stroke="#000" stroke-width="0.8"/>
<circle cx="498.5" cy="257.8" r="1.4" fill="#fff" stroke="#000" stroke-width="0.8"/>
<circle cx="503.0" cy="264.2" r="1.4" fill="#fff" stroke="#000" stroke-width="0.8"/>
<circle cx="507.5" cy="270.6" r="1.4" fill="#fff" stroke="#000" stroke-width="0.8"/>
<circle cx="512.0" cy="269.0" r="1.4" fill="#fff" stroke="#000" stroke-width="0.8"/>
<circle cx="516.5" cy="267.2" r="1.4" fill="#fff" stroke="#000" stroke-width="0.8"/>
<circle cx="521.0" cy="274.9" r="1.4" fill="#fff" stroke="#000" stroke-width="0.8"/>
<circle cx="525.5" cy="282.3" r="1.4" fill="#fff" stroke="#000" stroke-width="0.8"/>
<circle cx="530.0" cy="267.1" r="1.4" fill="#fff" stroke="#000" stroke-width="0.8"/>
<circle cx="534.4" cy="267.4" r="1.4" fill="#fff" stroke="#000" stroke-width="0.8"/>
<circle cx="539.0" cy="261.2" r="1.4" fill="#fff" stroke="#000" stroke-width="0.8"/>
<circle cx="543.4" cy="279.2" r="1.4" fill="#fff" stroke="#000" stroke-width="0.8"/>
<circle cx="548.7" cy="243.8" r="1.4" fill="#fff" stroke="#000" stroke-width="0.8"/>
<circle cx="553.1" cy="212.3" r="1.4" fill="#fff" stroke="#000" stroke-width="0.8"/>
<circle cx="557.7" cy="240.4" r="1.4" fill="#fff" stroke="#000" stroke-width="0.8"/>
<circle cx="562.2" cy="262.8" r="1.4" fill="#fff" stroke="#000" stroke-width="0.8"/>
<circle cx="566.6" cy="260.6" r="1.4" fill="#fff" stroke="#000" stroke-width="0.8"/>
<circle cx="570.9" cy="270.2" r="1.4" fill="#fff" stroke="#000" stroke-width="0.8"/>
<circle cx="575.7" cy="266.7" r="1.4" fill="#fff" stroke="#000" stroke-width="0.8"/>
<circle cx="580.1" cy="265.5" r="1.4" fill="#fff" stroke="#000" stroke-width="0.8"/>
<circle cx="584.3" cy="263.7" r="1.4" fill="#fff" stroke="#000" stroke-width="0.8"/>
<circle cx="589.2" cy="263.4" r="1.4" fill="#fff" stroke="#000" stroke-width="0.8"/>
<circle cx="593.6" cy="267.4" r="1.4" fill="#fff" stroke="#000" stroke-width="0.8"/>
<circle cx="597.8" cy="248.4" r="1.4" fill="#fff" stroke="#000" stroke-width="0.8"/>
<circle cx="602.0" cy="247.8" r="1.4" fill="#fff" stroke="#000" stroke-width="0.8"/>
<circle cx="607.1" cy="203.6" r="1.4" fill="#fff" stroke="#000" stroke-width="0.8"/>
<circle cx="611.3" cy="262.5" r="1.4" fill="#fff" stroke="#000" stroke-width="0.8"/>
<circle cx="616.2" cy="239.9" r="1.4" fill="#fff" stroke="#000" stroke-width="0.8"/>
<circle cx="620.6" cy="262.3" r="1.4" fill="#fff" stroke="#000" stroke-width="0.8"/>
<circle cx="318.6" cy="220.0" r="1.4" fill="#fff" stroke="#000" stroke-width="0.8"/>
<circle cx="323.5" cy="277.3" r="1.4" fill="#fff" stroke="#000" stroke-width="0.8"/>
<circle cx="328.0" cy="270.0" r="1.4" fill="#fff" stroke="#000" stroke-width="0.8"/>
<circle cx="332.4" cy="285.0" r="1.4" fill="#fff" stroke="#000" stroke-width="0.8"/>
<circle cx="337.0" cy="276.7" r="1.4" fill="#fff" stroke="#000" stroke-width="0.8"/>
<circle cx="341.4" cy="279.1" r="1.4" fill="#fff" stroke="#000" stroke-width="0.8"/>
<circle cx="345.9" cy="274.3" r="1.4" fill="#fff" stroke="#000" stroke-width="0.8"/>
<circle cx="350.4" cy="286.3" r="1.4" fill="#fff" stroke="#000" stroke-width="0.8"/>
<circle cx="354.8" cy="276.8" r="1.4" fill="#fff" stroke="#000" stroke-width="0.8"/>
<circle cx="359.3" cy="282.0" r="1.4" fill="#fff" stroke="#000" stroke-width="0.8"/>
<circle cx="363.8" cy="278.8" r="1.4" fill="#fff" stroke="#000" stroke-width="0.8"/>
<circle cx="368.3" cy="272.9" r="1.4" fill="#fff" stroke="#000" stroke-width="0.8"/>
<circle cx="372.8" cy="175.2" r="1.4" fill="#fff" stroke="#000" stroke-width="0.8"/>
<circle cx="377.3" cy="217.4" r="1.4" fill="#fff" stroke="#000" stroke-width="0.8"/>
<circle cx="381.7" cy="265.2" r="1.4" fill="#fff" stroke="#000" stroke-width="0.8"/>
<circle cx="386.2" cy="271.0" r="1.4" fill="#fff" stroke="#000" stroke-width="0.8"/>
<circle cx="390.7" cy="284.3" r="1.4" fill="#fff" stroke="#000" stroke-width="0.8"/>
<circle cx="395.2" cy="278.7" r="1.4" fill="#fff" stroke="#000" stroke-width="0.8"/>
<circle cx="399.7" cy="282.2" r="1.4" fill="#fff" stroke="#000" stroke-width="0.8"/>
<circle cx="404.2" cy="285.3" r="1.4" fill="#fff" stroke="#000" stroke-width="0.8"/>
<circle cx="408.7" cy="276.5" r="1.4" fill="#fff" stroke="#000" stroke-width="0.8"/>
<circle cx="413.1" cy="280.1" r="1.4" fill="#fff" stroke="#000" stroke-width="0.8"/>
<circle cx="417.6" cy="272.0" r="1.4" fill="#fff" stroke="#000" stroke-width="0.8"/>
<circle cx="422.1" cy="267.9" r="1.4" fill="#fff" stroke="#000" stroke-width="0.8"/>
<circle cx="426.6" cy="266.1" r="1.4" fill="#fff" stroke="#000" stroke-width="0.8"/>
<circle cx="431.3" cy="273.0" r="1.4" fill="#fff" stroke="#000" stroke-width="0.8"/>
<circle cx="435.8" cy="226.0" r="1.4" fill="#fff" stroke="#000" stroke-width="0.8"/>
<circle cx="440.2" cy="266.1" r="1.4" fill="#fff" stroke="#000" stroke-width="0.8"/>
<circle cx="444.7" cy="262.3" r="1.4" fill="#fff" stroke="#000" stroke-width="0.8"/>
<circle cx="449.2" cy="270.7" r="1.4" fill="#fff" stroke="#000" stroke-width="0.8"/>
<circle cx="453.7" cy="285.9" r="1.4" fill="#fff" stroke="#000" stroke-width="0.8"/>
<circle cx="458.2" cy="274.4" r="1.4" fill="#fff" stroke="#000" stroke-width="0.8"/>
<circle cx="462.7" cy="274.3" r="1.4" fill="#fff" stroke="#000" stroke-width="0.8"/>
<circle cx="467.2" cy="278.2" r="1.4" fill="#fff" stroke="#000" stroke-width="0.8"/>
<circle cx="471.6" cy="278.0" r="1.4" fill="#fff" stroke="#000" stroke-width="0.8"/>
<circle cx="476.0" cy="274.8" r="1.4" fill="#fff" stroke="#000" stroke-width="0.8"/>
<circle cx="480.6" cy="255.8" r="1.4" fill="#fff" stroke="#000" stroke-width="0.8"/>
<circle cx="485.0" cy="261.1" r="1.4" fill="#fff" stroke="#000" stroke-width="0.8"/>
<circle cx="489.6" cy="256.5" r="1.4" fill="#fff" stroke="#000" stroke-width="0.8"/>
<circle cx="494.0" cy="252.9" r="1.4" fill="#fff" stroke="#000" stroke-width="0.8"/>
<circle cx="498.5" cy="252.4" r="1.4" fill="#fff" stroke="#000" stroke-width="0.8"/>
<circle cx="503.0" cy="266.8" r="1.4" fill="#fff" stroke="#000" stroke-width="0.8"/>
<circle cx="507.5" cy="276.4" r="1.4" fill="#fff" stroke="#000" stroke-width="0.8"/>
<circle cx="512.0" cy="269.3" r="1.4" fill="#fff" stroke="#000" stroke-width="0.8"/>
<circle cx="516.5" cy="270.5" r="1.4" fill="#fff" stroke="#000" stroke-width="0.8"/>
<circle cx="521.0" cy="280.5" r="1.4" fill="#fff" stroke="#000" stroke-width="0.8"/>
<circle cx="525.5" cy="277.3" r="1.4" fill="#fff" stroke="#000" stroke-width="0.8"/>
<circle cx="530.0" cy="270.5" r="1.4" fill="#fff" stroke="#000" stroke-width="0.8"/>
<circle cx="534.4" cy="270.5" r="1.4" fill="#fff" stroke="#000" stroke-width="0.8"/>
<circle cx="539.0" cy="261.6" r="1.4" fill="#fff" stroke="#000" stroke-width="0.8"/>
<circle cx="543.4" cy="274.8" r="1.4" fill="#fff" stroke="#000" stroke-width="0.8"/>
<circle cx="548.7" cy="246.8" r="1.4" fill="#fff" stroke="#000" stroke-width="0.8"/>
<circle cx="553.1" cy="228.0" r="1.4" fill="#fff" stroke="#000" stroke-width="0.8"/>
<circle cx="557.7" cy="240.1" r="1.4" fill="#fff" stroke="#000" stroke-width="0.8"/>
<circle cx="562.2" cy="260.1" r="1.4" fill="#fff" stroke="#000" stroke-width="0.8"/>
<circle cx="566.6" cy="260.6" r="1.4" fill="#fff" stroke="#000" stroke-width="0.8"/>
<circle cx="570.9" cy="271.8" r="1.4" fill="#fff" stroke="#000" stroke-width="0.8"/>
<circle cx="575.7" cy="268.4" r="1.4" fill="#fff" stroke="#000" stroke-width="0.8"/>
<circle cx="580.1" cy="270.6" r="1.4" fill="#fff" stroke="#000" stroke-width="0.8"/>
<circle cx="584.3" cy="264.6" r="1.4" fill="#fff" stroke="#000" stroke-width="0.8"/>
<circle cx="589.2" cy="260.8" r="1.4" fill="#fff" stroke="#000" stroke-width="0.8"/>
<circle cx="593.6" cy="270.4" r="1.4" fill="#fff" stroke="#000" stroke-width="0.8"/>
<circle cx="597.8" cy="249.6" r="1.4" fill="#fff" stroke="#000" stroke-width="0.8"/>
<circle cx="602.0" cy="243.7" r="1.4" fill="#fff" stroke="#000" stroke-width="0.8"/>
<circle cx="607.1" cy="186.3" r="1.4" fill="#fff" stroke="#000" stroke-width="0.8"/>
<circle cx="611.3" cy="257.0" r="1.4" fill="#fff" stroke="#000" stroke-width="0.8"/>
<circle cx="616.2" cy="237.9" r="1.4" fill="#fff" stroke="#000" stroke-width="0.8"/>
<circle cx="620.6" cy="264.3" r="1.4" fill="#fff" stroke="#000" stroke-width="0.8"/>
<circle cx="318.6" cy="197.7" r="1.3" fill="#000"/>
<circle cx="323.5" cy="274.8" r="1.3" fill="#000"/>
<circle cx="328.0" cy="274.8" r="1.3" fill="#000"/>
<circle cx="332.4" cy="283.8" r="1.3" fill="#000"/>
<circle cx="337.0" cy="278.4" r="1.3" fill="#000"/>
<circle cx="341.4" cy="280.0" r="1.3" fill="#000"/>
<circle cx="345.9" cy="276.6" r="1.3" fill="#000"/>
<circle cx="350.4" cy="284.7" r="1.3" fill="#000"/>
<circle cx="354.8" cy="276.6" r="1.3" fill="#000"/>
<circle cx="359.3" cy="280.0" r="1.3" fill="#000"/>
<circle cx="363.8" cy="280.0" r="1.3" fill="#000"/>
<circle cx="368.3" cy="274.8" r="1.3" fill="#000"/>
<circle cx="372.8" cy="283.8" r="1.3" fill="#000"/>
<circle cx="377.3" cy="195.9" r="1.3" fill="#000"/>
<circle cx="381.7" cy="263.0" r="1.3" fill="#000"/>
<circle cx="386.2" cy="267.6" r="1.3" fill="#000"/>
<circle cx="390.7" cy="282.0" r="1.3" fill="#000"/>
<circle cx="395.2" cy="276.6" r="1.3" fill="#000"/>
<circle cx="399.7" cy="280.0" r="1.3" fill="#000"/>
<circle cx="404.2" cy="283.8" r="1.3" fill="#000"/>
<circle cx="408.7" cy="278.4" r="1.3" fill="#000"/>
<circle cx="413.1" cy="280.0" r="1.3" fill="#000"/>
<circle cx="417.6" cy="273.0" r="1.3" fill="#000"/>
<circle cx="422.1" cy="271.2" r="1.3" fill="#000"/>
<circle cx="426.6" cy="269.4" r="1.3" fill="#000"/>
<circle cx="431.3" cy="261.3" r="1.3" fill="#000"/>
<circle cx="435.8" cy="221.0" r="1.3" fill="#000"/>
<circle cx="440.2" cy="267.6" r="1.3" fill="#000"/>
<circle cx="444.7" cy="264.0" r="1.3" fill="#000"/>
<circle cx="449.2" cy="269.4" r="1.3" fill="#000"/>
<circle cx="453.7" cy="283.0" r="1.3" fill="#000"/>
<circle cx="458.2" cy="274.8" r="1.3" fill="#000"/>
<circle cx="462.7" cy="271.2" r="1.3" fill="#000"/>
<circle cx="467.2" cy="274.8" r="1.3" fill="#000"/>
<circle cx="471.6" cy="274.8" r="1.3" fill="#000"/>
<circle cx="476.0" cy="275.7" r="1.3" fill="#000"/>
<circle cx="480.6" cy="257.8" r="1.3" fill="#000"/>
<circle cx="485.0" cy="263.0" r="1.3" fill="#000"/>
<circle cx="489.6" cy="258.6" r="1.3" fill="#000"/>
<circle cx="494.0" cy="255.0" r="1.3" fill="#000"/>
<circle cx="498.5" cy="251.5" r="1.3" fill="#000"/>
<circle cx="503.0" cy="264.0" r="1.3" fill="#000"/>
<circle cx="507.5" cy="274.0" r="1.3" fill="#000"/>
<circle cx="512.0" cy="269.4" r="1.3" fill="#000"/>
<circle cx="516.5" cy="269.4" r="1.3" fill="#000"/>
<circle cx="521.0" cy="278.4" r="1.3" fill="#000"/>
<circle cx="525.5" cy="280.2" r="1.3" fill="#000"/>
<circle cx="530.0" cy="269.4" r="1.3" fill="#000"/>
<circle cx="534.4" cy="267.6" r="1.3" fill="#000"/>
<circle cx="539.0" cy="259.6" r="1.3" fill="#000"/>
<circle cx="543.4" cy="278.8" r="1.3" fill="#000"/>
<circle cx="548.7" cy="245.0" r="1.3" fill="#000"/>
<circle cx="553.1" cy="224.8" r="1.3" fill="#000"/>
<circle cx="557.7" cy="240.3" r="1.3" fill="#000"/>
<circle cx="562.2" cy="262.4" r="1.3" fill="#000"/>
<circle cx="566.6" cy="258.6" r="1.3" fill="#000"/>
<circle cx="570.9" cy="273.0" r="1.3" fill="#000"/>
<circle cx="575.7" cy="266.3" r="1.3" fill="#000"/>
<circle cx="580.1" cy="267.3" r="1.3" fill="#000"/>
<circle cx="584.3" cy="265.3" r="1.3" fill="#000"/>
<circle cx="589.2" cy="261.5" r="1.3" fill="#000"/>
<circle cx="593.6" cy="267.3" r="1.3" fill="#000"/>
<circle cx="597.8" cy="248.0" r="1.3" fill="#000"/>
<circle cx="602.0" cy="246.0" r="1.3" fill="#000"/>
<circle cx="607.1" cy="172.8" r="1.3" fill="#000"/>
<circle cx="611.3" cy="259.6" r="1.3" fill="#000"/>
<circle cx="616.2" cy="240.3" r="1.3" fill="#000"/>
<circle cx="620.6" cy="261.5" r="1.3" fill="#000"/>
<text transform="matrix(0.6348,0,0,1,579.270,155.309)" font-size="9.054" font-weight="bold" fill="#000">Orexin administration</text>
<line x1="611" y1="162.2" x2="611" y2="192" stroke="#000" stroke-width="1.6"/>
<polygon points="608.3,188 613.7,188 611,197.8" fill="#000"/>
<text transform="matrix(1.0751,0,0,1,16.867,337.453)" font-size="14.727" font-weight="bold" fill="#000">e</text>
<text transform="matrix(0.9025,0,0,1,45.576,350.282)" font-size="11.757" font-weight="bold" fill="#000">Control</text>
<text transform="matrix(0.8782,0,0,1,97.082,350.981)" font-size="11.892" font-weight="bold" fill="#000">Orexin A</text>
<text transform="matrix(0.8801,0,0,1,151.581,350.981)" font-size="11.892" font-weight="bold" fill="#000">Orexin B</text>
<rect x="39.5" y="355.1" width="48.2" height="2.5" fill="#000"/>
<rect x="94" y="355.1" width="48" height="2.5" fill="#000"/>
<rect x="147" y="355.1" width="48.4" height="2.5" fill="#000"/>
<rect x="38" y="365" width="157" height="31.69999999999999" fill="#f4f4f4" stroke="none"/>
<rect x="43.55" y="377.20" width="16.1" height="6.2" rx="2" fill="#000" fill-opacity="0.066" filter="url(#b2)"/>
<rect x="44.55" y="378.70" width="14.1" height="3.2" rx="1.92" fill="#000" fill-opacity="0.55" filter="url(#b1)"/>
<rect x="61.30" y="378.30" width="15.6" height="6.6" rx="2" fill="#000" fill-opacity="0.116" filter="url(#b2)"/>
<rect x="62.30" y="379.80" width="13.6" height="3.6" rx="2.16" fill="#000" fill-opacity="0.97" filter="url(#b1)"/>
<rect x="78.10" y="378.50" width="14.799999999999999" height="6.4" rx="2" fill="#000" fill-opacity="0.114" filter="url(#b2)"/>
<rect x="79.10" y="380.00" width="12.799999999999999" height="3.4" rx="2.04" fill="#000" fill-opacity="0.95" filter="url(#b1)"/>
<rect x="93.90" y="378.65" width="14.799999999999999" height="6.7" rx="2" fill="#000" fill-opacity="0.114" filter="url(#b2)"/>
<rect x="94.90" y="380.15" width="12.799999999999999" height="3.7" rx="2.22" fill="#000" fill-opacity="0.95" filter="url(#b1)"/>
<rect x="109.80" y="379.50" width="15.799999999999999" height="7" rx="2" fill="#000" fill-opacity="0.116" filter="url(#b2)"/>
<rect x="110.80" y="381.00" width="13.799999999999999" height="4" rx="2.40" fill="#000" fill-opacity="0.97" filter="url(#b1)"/>
<rect x="126.15" y="378.85" width="15.1" height="6.9" rx="2" fill="#000" fill-opacity="0.114" filter="url(#b2)"/>
<rect x="127.15" y="380.35" width="13.1" height="3.9" rx="2.34" fill="#000" fill-opacity="0.95" filter="url(#b1)"/>
<rect x="142.80" y="378.90" width="14.4" height="6" rx="2" fill="#000" fill-opacity="0.074" filter="url(#b2)"/>
<rect x="143.80" y="380.40" width="12.4" height="3" rx="1.80" fill="#000" fill-opacity="0.62" filter="url(#b1)"/>
<rect x="158.75" y="378.00" width="14.5" height="6.8" rx="2" fill="#000" fill-opacity="0.114" filter="url(#b2)"/>
<rect x="159.75" y="379.50" width="12.5" height="3.8" rx="2.28" fill="#000" fill-opacity="0.95" filter="url(#b1)"/>
<rect x="175.20" y="375.75" width="14" height="7.3" rx="2" fill="#000" fill-opacity="0.118" filter="url(#b2)" transform="rotate(-14 182.2 379.4)"/>
<rect x="176.20" y="377.25" width="12" height="4.3" rx="2.58" fill="#000" fill-opacity="0.98" filter="url(#b1)" transform="rotate(-14 182.2 379.4)"/>
<rect x="38" y="365" width="157" height="31.69999999999999" fill="none" stroke="#111" stroke-width="1.75"/>
<rect x="38" y="403.8" width="157" height="31.80000000000001" fill="#f3f3f3" stroke="none"/>
<rect x="42.45" y="418.20" width="16.5" height="7.2" rx="2" fill="#000" fill-opacity="0.070" filter="url(#b2)"/>
<rect x="43.45" y="419.70" width="14.5" height="4.2" rx="2.52" fill="#000" fill-opacity="0.58" filter="url(#b1)"/>
<rect x="57.60" y="419.10" width="16.8" height="8" rx="2" fill="#000" fill-opacity="0.086" filter="url(#b2)"/>
<rect x="58.60" y="420.60" width="14.8" height="5" rx="3.00" fill="#000" fill-opacity="0.72" filter="url(#b1)"/>
<rect x="72.90" y="418.50" width="16.8" height="7.4" rx="2" fill="#000" fill-opacity="0.074" filter="url(#b2)"/>
<rect x="73.90" y="420.00" width="14.8" height="4.4" rx="2.64" fill="#000" fill-opacity="0.62" filter="url(#b1)"/>
<rect x="88.55" y="416.95" width="16.5" height="7.3" rx="2" fill="#000" fill-opacity="0.106" filter="url(#b2)"/>
<rect x="89.55" y="418.45" width="14.5" height="4.3" rx="2.58" fill="#000" fill-opacity="0.88" filter="url(#b1)"/>
<rect x="104.00" y="417.65" width="16.8" height="7.5" rx="2" fill="#000" fill-opacity="0.108" filter="url(#b2)"/>
<rect x="105.00" y="419.15" width="14.8" height="4.5" rx="2.70" fill="#000" fill-opacity="0.9" filter="url(#b1)"/>
<rect x="119.20" y="418.80" width="16.8" height="8.4" rx="2" fill="#000" fill-opacity="0.118" filter="url(#b2)"/>
<rect x="120.20" y="420.30" width="14.8" height="5.4" rx="3.24" fill="#000" fill-opacity="0.98" filter="url(#b1)"/>
<rect x="133.75" y="416.40" width="18.5" height="7.8" rx="2" fill="#000" fill-opacity="0.112" filter="url(#b2)"/>
<rect x="134.75" y="417.90" width="16.5" height="4.8" rx="2.88" fill="#000" fill-opacity="0.93" filter="url(#b1)"/>
<rect x="150.25" y="415.80" width="18.5" height="7.8" rx="2" fill="#000" fill-opacity="0.112" filter="url(#b2)"/>
<rect x="151.25" y="417.30" width="16.5" height="4.8" rx="2.88" fill="#000" fill-opacity="0.93" filter="url(#b1)"/>
<rect x="168.35" y="414.80" width="8.5" height="6.8" rx="2" fill="#000" fill-opacity="0.096" filter="url(#b2)"/>
<rect x="169.35" y="416.30" width="6.5" height="3.8" rx="2.28" fill="#000" fill-opacity="0.8" filter="url(#b1)"/>
<rect x="172.00" y="413.50" width="16" height="5.6" rx="2" fill="#000" fill-opacity="0.034" filter="url(#b2)" transform="rotate(-13 180 416.3)"/>
<rect x="173.00" y="415.00" width="14" height="2.6" rx="1.56" fill="#000" fill-opacity="0.28" filter="url(#b1)" transform="rotate(-13 180 416.3)"/>
<rect x="38" y="403.8" width="157" height="31.80000000000001" fill="none" stroke="#111" stroke-width="1.75"/>
<rect x="38" y="441.1" width="157" height="27.399999999999977" fill="#e6e6e6" stroke="none"/>
<rect x="38" y="441.1" width="157" height="14" fill="#d8d8d8" filter="url(#b2)"/>
<rect x="41.00" y="447.30" width="16.6" height="7.4" rx="2" fill="#000" fill-opacity="0.120" filter="url(#b2)"/>
<rect x="42.00" y="448.80" width="14.6" height="4.4" rx="2.64" fill="#000" fill-opacity="1.0" filter="url(#b1)"/>
<path d="M58,452.6 L72,453 L88,453.2 L104,452.8 L119,453.4 L121,454.6 L135,454.7 L151,454.1 L168.5,454 L168.5,454.5" fill="none"/>
<rect x="56.40" y="449.15" width="17.4" height="7.3" rx="2" fill="#000" fill-opacity="0.114" filter="url(#b2)"/>
<rect x="57.40" y="450.65" width="15.4" height="4.3" rx="2.58" fill="#000" fill-opacity="0.95" filter="url(#b1)"/>
<rect x="71.45" y="449.60" width="17.5" height="7.0" rx="2" fill="#000" fill-opacity="0.112" filter="url(#b2)"/>
<rect x="72.45" y="451.10" width="15.5" height="4.0" rx="2.40" fill="#000" fill-opacity="0.93" filter="url(#b1)"/>
<rect x="87.05" y="449.10" width="17.5" height="7.0" rx="2" fill="#000" fill-opacity="0.112" filter="url(#b2)"/>
<rect x="88.05" y="450.60" width="15.5" height="4.0" rx="2.40" fill="#000" fill-opacity="0.93" filter="url(#b1)"/>
<rect x="102.70" y="449.70" width="17.2" height="7.2" rx="2" fill="#000" fill-opacity="0.114" filter="url(#b2)"/>
<rect x="103.70" y="451.20" width="15.2" height="4.2" rx="2.52" fill="#000" fill-opacity="0.95" filter="url(#b1)"/>
<rect x="118.85" y="450.90" width="17.5" height="7.4" rx="2" fill="#000" fill-opacity="0.120" filter="url(#b2)"/>
<rect x="119.85" y="452.40" width="15.5" height="4.4" rx="2.64" fill="#000" fill-opacity="1.0" filter="url(#b1)"/>
<rect x="134.15" y="450.60" width="18.5" height="7.2" rx="2" fill="#000" fill-opacity="0.116" filter="url(#b2)"/>
<rect x="135.15" y="452.10" width="16.5" height="4.2" rx="2.52" fill="#000" fill-opacity="0.97" filter="url(#b1)"/>
<rect x="150.65" y="450.50" width="18.9" height="7.2" rx="2" fill="#000" fill-opacity="0.116" filter="url(#b2)"/>
<rect x="151.65" y="452.00" width="16.9" height="4.2" rx="2.52" fill="#000" fill-opacity="0.97" filter="url(#b1)"/>
<rect x="169.95" y="448.75" width="20.5" height="7.1" rx="2" fill="#000" fill-opacity="0.116" filter="url(#b2)" transform="rotate(-9 180.2 452.3)"/>
<rect x="170.95" y="450.25" width="18.5" height="4.1" rx="2.46" fill="#000" fill-opacity="0.97" filter="url(#b1)" transform="rotate(-9 180.2 452.3)"/>
<rect x="43.00" y="459.05" width="12" height="2.5" rx="1.50" fill="#000" fill-opacity="0.05" filter="url(#b1)"/>
<rect x="59.00" y="459.05" width="12" height="2.5" rx="1.50" fill="#000" fill-opacity="0.05" filter="url(#b1)"/>
<rect x="74.00" y="459.05" width="12" height="2.5" rx="1.50" fill="#000" fill-opacity="0.05" filter="url(#b1)"/>
<rect x="90.00" y="459.05" width="12" height="2.5" rx="1.50" fill="#000" fill-opacity="0.05" filter="url(#b1)"/>
<rect x="105.00" y="459.05" width="12" height="2.5" rx="1.50" fill="#000" fill-opacity="0.05" filter="url(#b1)"/>
<rect x="121.00" y="459.05" width="12" height="2.5" rx="1.50" fill="#000" fill-opacity="0.05" filter="url(#b1)"/>
<rect x="137.00" y="459.05" width="12" height="2.5" rx="1.50" fill="#000" fill-opacity="0.05" filter="url(#b1)"/>
<rect x="154.00" y="459.05" width="12" height="2.5" rx="1.50" fill="#000" fill-opacity="0.05" filter="url(#b1)"/>
<rect x="38" y="441.1" width="157" height="27.399999999999977" fill="none" stroke="#111" stroke-width="1.75"/>
<text transform="matrix(0.7424,0,0,1,4.451,385.616)" font-size="13.446" font-weight="normal" fill="#2a2a2a">16kDa</text>
<text transform="matrix(0.7501,0,0,1,4.299,425.866)" font-size="13.378" font-weight="normal" fill="#2a2a2a">50kDa</text>
<text transform="matrix(0.7501,0,0,1,4.299,462.066)" font-size="13.378" font-weight="normal" fill="#2a2a2a">37kDa</text>
<text transform="matrix(0.7712,0,0,1,197.284,382.966)" font-size="13.378" font-weight="normal" fill="#2a2a2a">Orexin</text>
<text transform="matrix(0.6490,0,0,1,197.348,422.661)" font-size="13.944" font-weight="normal" fill="#2a2a2a">ORX-R2</text>
<text transform="matrix(0.6733,0,0,1,197.331,458.861)" font-size="13.944" font-weight="normal" fill="#2a2a2a">GAPDH</text>
<text transform="matrix(1.3105,0,0,1,0.419,489.800)" font-size="12.877" font-weight="bold" fill="#000">h</text>
<text transform="matrix(1.1398,0,0,1,7.350,504.801)" font-size="9.859" font-weight="bold" fill="#000">+rORX-A</text>
<text transform="matrix(0.8765,0,0,1,74.300,509.186)" font-size="11.408" font-weight="bold" fill="#000">0</text>
<text transform="matrix(0.9511,0,0,1,103.417,509.780)" font-size="11.972" font-weight="bold" fill="#000">10</text>
<text transform="matrix(0.9128,0,0,1,133.413,509.775)" font-size="12.535" font-weight="bold" fill="#000">100 nM</text>
<rect x="65.2" y="514" width="24.099999999999994" height="1.4" fill="#000"/>
<rect x="97" y="514" width="25" height="1.4" fill="#000"/>
<rect x="130.4" y="514" width="25.099999999999994" height="1.4" fill="#000"/>
<text transform="matrix(0.9232,0,0,1,20.114,519.978)" font-size="12.162" font-weight="normal" fill="#000">kDa</text>
<rect x="58.5" y="522.2" width="108.19999999999999" height="27.799999999999955" fill="#efefef" stroke="none"/>
<rect x="58.5" y="522.2" width="108.2" height="8" fill="#e2e2e2" filter="url(#b2)"/>
<rect x="61.00" y="533.80" width="34" height="7.2" rx="2" fill="#000" fill-opacity="0.074" filter="url(#b2)"/>
<rect x="62.00" y="535.30" width="32" height="4.2" rx="2.52" fill="#000" fill-opacity="0.62" filter="url(#b1)"/>
<rect x="80.00" y="533.90" width="14" height="7" rx="2" fill="#000" fill-opacity="0.036" filter="url(#b2)"/>
<rect x="81.00" y="535.40" width="12" height="4" rx="2.40" fill="#000" fill-opacity="0.3" filter="url(#b1)"/>
<rect x="97.00" y="532.80" width="28" height="7" rx="2" fill="#000" fill-opacity="0.098" filter="url(#b2)"/>
<rect x="98.00" y="534.30" width="26" height="4" rx="2.40" fill="#000" fill-opacity="0.82" filter="url(#b1)"/>
<rect x="127.00" y="535.30" width="36" height="6.6" rx="2" fill="#000" fill-opacity="0.036" filter="url(#b2)"/>
<rect x="128.00" y="536.80" width="34" height="3.6" rx="2.16" fill="#000" fill-opacity="0.3" filter="url(#b1)"/>
<rect x="58.55" y="522.25" width="108.10000000000001" height="27.799999999999955" fill="none" stroke="#111" stroke-width="1.7"/>
<rect x="58.5" y="555" width="108.19999999999999" height="28" fill="#e4e4e4" stroke="none"/>
<rect x="62.60" y="567.20" width="32" height="8" rx="2" fill="#000" fill-opacity="0.102" filter="url(#b2)"/>
<rect x="63.60" y="568.70" width="30" height="5" rx="3.00" fill="#000" fill-opacity="0.85" filter="url(#b1)"/>
<rect x="98.70" y="568.70" width="28" height="7.6" rx="2" fill="#000" fill-opacity="0.102" filter="url(#b2)"/>
<rect x="99.70" y="570.20" width="26" height="4.6" rx="2.76" fill="#000" fill-opacity="0.85" filter="url(#b1)"/>
<rect x="130.00" y="567.80" width="31" height="7.6" rx="2" fill="#000" fill-opacity="0.084" filter="url(#b2)"/>
<rect x="131.00" y="569.30" width="29" height="4.6" rx="2.76" fill="#000" fill-opacity="0.7" filter="url(#b1)"/>
<rect x="98.8" y="555.5" width="3.4" height="27.5" fill="#000" opacity="0.5" filter="url(#b1)"/>
<rect x="58.55" y="555.05" width="108.10000000000001" height="27.90000000000009" fill="none" stroke="#111" stroke-width="1.7"/>
<rect x="58.5" y="589.5" width="108.19999999999999" height="29.0" fill="#dadada" stroke="none"/>
<rect x="65.40" y="598.15" width="28" height="9.5" rx="2" fill="#000" fill-opacity="0.066" filter="url(#b2)"/>
<rect x="66.40" y="599.65" width="26" height="6.5" rx="3.90" fill="#000" fill-opacity="0.55" filter="url(#b2)"/>
<rect x="98.30" y="597.85" width="27" height="9.5" rx="2" fill="#000" fill-opacity="0.074" filter="url(#b2)"/>
<rect x="99.30" y="599.35" width="25" height="6.5" rx="3.90" fill="#000" fill-opacity="0.62" filter="url(#b2)"/>
<rect x="131.70" y="598.25" width="30" height="9.5" rx="2" fill="#000" fill-opacity="0.066" filter="url(#b2)"/>
<rect x="132.70" y="599.75" width="28" height="6.5" rx="3.90" fill="#000" fill-opacity="0.55" filter="url(#b2)"/>
<rect x="126.6" y="590" width="2.9" height="28" fill="#000" opacity="0.9" filter="url(#b1)"/>
<rect x="125" y="590" width="6" height="28" fill="#000" opacity="0.35" filter="url(#b1)"/>
<rect x="58.55" y="589.55" width="108.10000000000001" height="28.90000000000009" fill="none" stroke="#111" stroke-width="1.7"/>
<rect x="57.6" y="623.4" width="109.6" height="30.399999999999977" fill="#f4f4f4" stroke="none"/>
<rect x="66.00" y="635.80" width="31" height="7.2" rx="2" fill="#000" fill-opacity="0.118" filter="url(#b2)"/>
<rect x="67.00" y="637.30" width="29" height="4.2" rx="2.52" fill="#000" fill-opacity="0.98" filter="url(#b0)"/>
<rect x="95.30" y="635.90" width="32" height="7.4" rx="2" fill="#000" fill-opacity="0.118" filter="url(#b2)"/>
<rect x="96.30" y="637.40" width="30" height="4.4" rx="2.64" fill="#000" fill-opacity="0.98" filter="url(#b0)"/>
<rect x="126.00" y="635.70" width="33" height="7.2" rx="2" fill="#000" fill-opacity="0.118" filter="url(#b2)"/>
<rect x="127.00" y="637.20" width="31" height="4.2" rx="2.52" fill="#000" fill-opacity="0.98" filter="url(#b0)"/>
<rect x="57.6" y="623.4" width="109.6" height="30.399999999999977" fill="none" stroke="#333" stroke-width="1.2"/>
<text transform="matrix(0.8312,0,0,1,32.094,539.677)" font-size="12.254" font-weight="normal" font-style="italic" fill="#000">16</text>
<polygon points="45.6,533.8 56.3,536.4 45.6,539.0" fill="#111"/>
<polygon points="45.300000000000004,535.4 53.099999999999994,536.4 45.300000000000004,537.4" fill="#fff"/>
<text transform="matrix(0.8813,0,0,1,32.094,574.880)" font-size="11.972" font-weight="normal" font-style="italic" fill="#000">48</text>
<polygon points="45.6,569.5 56.3,572.1 45.6,574.7" fill="#111"/>
<polygon points="45.300000000000004,571.1 53.099999999999994,572.1 45.300000000000004,573.1" fill="#fff"/>
<text transform="matrix(0.9215,0,0,1,32.487,608.685)" font-size="11.549" font-weight="normal" font-style="italic" fill="#000">56</text>
<polygon points="45.6,602.5 56.3,605.1 45.6,607.7" fill="#111"/>
<polygon points="45.300000000000004,604.1 53.099999999999994,605.1 45.300000000000004,606.1" fill="#fff"/>
<text transform="matrix(0.9270,0,0,1,31.993,641.784)" font-size="11.571" font-weight="normal" font-style="italic" fill="#000">45</text>
<polygon points="45.6,635.6 56.3,638.2 45.6,640.8000000000001" fill="#111"/>
<polygon points="45.300000000000004,637.2 53.099999999999994,638.2 45.300000000000004,639.2" fill="#fff"/>
<polygon points="178.9,532.15 168.4,535.4 178.9,538.65 177.9,535.4" fill="#000"/>
<text transform="matrix(0.9248,0,0,1,181.159,538.015)" font-size="12.308" font-weight="normal" font-style="italic" fill="#000">Prepro-ORX</text>
<polygon points="178.9,565.15 168.4,568.4 178.9,571.65 177.9,568.4" fill="#000"/>
<text transform="matrix(0.9086,0,0,1,180.931,571.475)" font-size="12.535" font-weight="normal" font-style="italic" fill="#000">ORXR1</text>
<polygon points="178.9,600.25 168.4,603.5 178.9,606.75 177.9,603.5" fill="#000"/>
<text transform="matrix(0.8447,0,0,1,180.035,606.966)" font-size="13.380" font-weight="normal" font-style="italic" fill="#000">ORXR2</text>
<polygon points="179.7,634.35 169.3,637.6 179.7,640.85 178.7,637.6" fill="#000"/>
<text transform="matrix(0.9107,0,0,1,183.054,639.878)" font-size="12.162" font-weight="normal" font-style="italic" fill="#000">Actin</text>
<text transform="matrix(0.9777,0,0,1,4.350,692.400)" font-size="15.342" font-weight="bold" fill="#000">k</text>
<text transform="matrix(0.9979,0,0,1,13.073,705.793)" font-size="10.704" font-weight="bold" fill="#000">+rORX-B</text>
<text transform="matrix(0.9325,0,0,1,77.874,706.586)" font-size="11.408" font-weight="bold" fill="#000">0</text>
<text transform="matrix(0.9807,0,0,1,106.329,706.586)" font-size="11.408" font-weight="bold" fill="#000">10</text>
<text transform="matrix(0.8990,0,0,1,138.647,706.579)" font-size="12.113" font-weight="bold" fill="#000">100 nM</text>
<rect x="67.2" y="709.7" width="27.200000000000003" height="1.4" fill="#000"/>
<rect x="99.1" y="709.7" width="27.30000000000001" height="1.4" fill="#000"/>
<rect x="132.6" y="709.7" width="27.0" height="1.4" fill="#000"/>
<text transform="matrix(0.9368,0,0,1,25.247,719.685)" font-size="11.486" font-weight="normal" fill="#000">kDa</text>
<rect x="60.3" y="718" width="104.00000000000001" height="28.799999999999955" fill="#f0f0f0" stroke="none"/>
<rect x="60.3" y="718" width="104" height="10" fill="#e4e4e4" filter="url(#b2)"/>
<rect x="64.00" y="729.40" width="31" height="7.6" rx="2" fill="#000" fill-opacity="0.054" filter="url(#b2)"/>
<rect x="65.00" y="730.90" width="29" height="4.6" rx="2.76" fill="#000" fill-opacity="0.45" filter="url(#b1)"/>
<rect x="99.00" y="730.40" width="25" height="7.2" rx="2" fill="#000" fill-opacity="0.048" filter="url(#b2)"/>
<rect x="100.00" y="731.90" width="23" height="4.2" rx="2.52" fill="#000" fill-opacity="0.4" filter="url(#b1)"/>
<rect x="128.00" y="729.60" width="24" height="7.4" rx="2" fill="#000" fill-opacity="0.072" filter="url(#b2)"/>
<rect x="129.00" y="731.10" width="22" height="4.4" rx="2.64" fill="#000" fill-opacity="0.6" filter="url(#b1)"/>
<rect x="145.50" y="729.20" width="15" height="7.6" rx="2" fill="#000" fill-opacity="0.110" filter="url(#b2)"/>
<rect x="146.50" y="730.70" width="13" height="4.6" rx="2.76" fill="#000" fill-opacity="0.92" filter="url(#b1)"/>
<rect x="60.25" y="717.95" width="104.0" height="28.899999999999977" fill="none" stroke="#111" stroke-width="1.7"/>
<rect x="60.3" y="752.6" width="104.00000000000001" height="27.899999999999977" fill="#e6e6e6" stroke="none"/>
<rect x="65.00" y="763.80" width="22" height="7.4" rx="2" fill="#000" fill-opacity="0.072" filter="url(#b2)" transform="rotate(-9 76 767.5)"/>
<rect x="66.00" y="765.30" width="20" height="4.4" rx="2.64" fill="#000" fill-opacity="0.6" filter="url(#b1)" transform="rotate(-9 76 767.5)"/>
<rect x="84.00" y="762.00" width="12" height="7.6" rx="2" fill="#000" fill-opacity="0.110" filter="url(#b2)" transform="rotate(-6 90 765.8)"/>
<rect x="85.00" y="763.50" width="10" height="4.6" rx="2.76" fill="#000" fill-opacity="0.92" filter="url(#b1)" transform="rotate(-6 90 765.8)"/>
<rect x="99.45" y="762.10" width="25.5" height="7.8" rx="2" fill="#000" fill-opacity="0.114" filter="url(#b2)"/>
<rect x="100.45" y="763.60" width="23.5" height="4.8" rx="2.88" fill="#000" fill-opacity="0.95" filter="url(#b1)"/>
<rect x="129.00" y="762.40" width="32" height="8" rx="2" fill="#000" fill-opacity="0.086" filter="url(#b2)"/>
<rect x="130.00" y="763.90" width="30" height="5" rx="3.00" fill="#000" fill-opacity="0.72" filter="url(#b1)"/>
<rect x="60.25" y="752.65" width="104.0" height="27.800000000000068" fill="none" stroke="#111" stroke-width="1.7"/>
<rect x="60.3" y="786.5" width="104.00000000000001" height="27.399999999999977" fill="#dedede" stroke="none"/>
<rect x="67.00" y="797.30" width="22" height="8" rx="2" fill="#000" fill-opacity="0.060" filter="url(#b2)"/>
<rect x="68.00" y="798.80" width="20" height="5" rx="3.00" fill="#000" fill-opacity="0.5" filter="url(#b1)"/>
<rect x="84.00" y="796.80" width="13" height="8" rx="2" fill="#000" fill-opacity="0.102" filter="url(#b2)"/>
<rect x="85.00" y="798.30" width="11" height="5" rx="3.00" fill="#000" fill-opacity="0.85" filter="url(#b1)"/>
<rect x="101.30" y="796.60" width="27" height="8" rx="2" fill="#000" fill-opacity="0.102" filter="url(#b2)"/>
<rect x="102.30" y="798.10" width="25" height="5" rx="3.00" fill="#000" fill-opacity="0.85" filter="url(#b1)"/>
<rect x="133.00" y="796.60" width="14" height="8" rx="2" fill="#000" fill-opacity="0.096" filter="url(#b2)"/>
<rect x="134.00" y="798.10" width="12" height="5" rx="3.00" fill="#000" fill-opacity="0.8" filter="url(#b1)"/>
<rect x="142.00" y="797.30" width="18" height="7.8" rx="2" fill="#000" fill-opacity="0.066" filter="url(#b2)"/>
<rect x="143.00" y="798.80" width="16" height="4.8" rx="2.88" fill="#000" fill-opacity="0.55" filter="url(#b1)"/>
<rect x="60.25" y="786.55" width="104.0" height="27.300000000000068" fill="none" stroke="#111" stroke-width="1.7"/>
<rect x="59.9" y="819.2" width="105.5" height="27.799999999999955" fill="#f4f4f4" stroke="none"/>
<rect x="62.00" y="830.00" width="36" height="7.6" rx="2" fill="#000" fill-opacity="0.118" filter="url(#b2)"/>
<rect x="63.00" y="831.50" width="34" height="4.6" rx="2.76" fill="#000" fill-opacity="0.98" filter="url(#b0)"/>
<rect x="95.00" y="830.40" width="32" height="7.8" rx="2" fill="#000" fill-opacity="0.118" filter="url(#b2)"/>
<rect x="96.00" y="831.90" width="30" height="4.8" rx="2.88" fill="#000" fill-opacity="0.98" filter="url(#b0)"/>
<rect x="124.50" y="829.90" width="33" height="7.6" rx="2" fill="#000" fill-opacity="0.118" filter="url(#b2)"/>
<rect x="125.50" y="831.40" width="31" height="4.6" rx="2.76" fill="#000" fill-opacity="0.98" filter="url(#b0)"/>
<rect x="59.9" y="819.2" width="105.5" height="27.799999999999955" fill="none" stroke="#333" stroke-width="1.2"/>
<text transform="matrix(0.9188,0,0,1,31.978,737.083)" font-size="11.690" font-weight="normal" font-style="italic" fill="#000">16</text>
<polygon points="45.4,730.3 57.4,732.9 45.4,735.5" fill="#111"/>
<polygon points="45.1,731.9 54.199999999999996,732.9 45.1,733.9" fill="#fff"/>
<text transform="matrix(0.9328,0,0,1,32.194,770.386)" font-size="11.408" font-weight="normal" font-style="italic" fill="#000">48</text>
<polygon points="45.4,764.8 57.4,767.4 45.4,770.0" fill="#111"/>
<polygon points="45.1,766.4 54.199999999999996,767.4 45.1,768.4" fill="#fff"/>
<text transform="matrix(0.9650,0,0,1,32.080,805.386)" font-size="11.408" font-weight="normal" font-style="italic" fill="#000">56</text>
<polygon points="45.4,799.3 57.4,801.9 45.4,804.5" fill="#111"/>
<polygon points="45.1,800.9 54.199999999999996,801.9 45.1,802.9" fill="#fff"/>
<text transform="matrix(0.9113,0,0,1,32.195,836.784)" font-size="11.571" font-weight="normal" font-style="italic" fill="#000">45</text>
<polygon points="45.4,830.6999999999999 57.4,833.3 45.4,835.9" fill="#111"/>
<polygon points="45.1,832.3 54.199999999999996,833.3 45.1,834.3" fill="#fff"/>
<polygon points="180,729.75 168,733 180,736.25 179,733" fill="#000"/>
<text transform="matrix(0.7915,0,0,1,182.674,737.415)" font-size="13.736" font-weight="normal" font-style="italic" fill="#000">Prepro-ORX</text>
<polygon points="180,763.45 168,766.7 180,769.95 179,766.7" fill="#000"/>
<text transform="matrix(0.8938,0,0,1,180.934,770.873)" font-size="12.676" font-weight="normal" font-style="italic" fill="#000">ORXR1</text>
<polygon points="180,797.75 168,801 180,804.25 179,801" fill="#000"/>
<text transform="matrix(0.8752,0,0,1,180.945,805.473)" font-size="12.676" font-weight="normal" font-style="italic" fill="#000">ORXR2</text>
<polygon points="180,830.15 168,833.4 180,836.65 179,833.4" fill="#000"/>
<text transform="matrix(0.8849,0,0,1,183.538,836.878)" font-size="12.162" font-weight="normal" font-style="italic" fill="#000">Actin</text>
<text transform="matrix(1.1774,0,0,1,261.997,348.000)" font-size="12.877" font-weight="bold" fill="#000">f</text>
<line x1="298.4" y1="359.6" x2="298.4" y2="464.3" stroke="#000" stroke-width="1.4"/>
<line x1="296" y1="360.1" x2="298.4" y2="360.1" stroke="#000" stroke-width="1.2"/>
<text transform="matrix(1.0666,0,0,1,282.834,363.117)" font-size="8.310" font-weight="bold" fill="#000">2.0</text>
<line x1="296" y1="386.0" x2="298.4" y2="386.0" stroke="#000" stroke-width="1.2"/>
<text transform="matrix(1.0678,0,0,1,282.560,389.016)" font-size="8.429" font-weight="bold" fill="#000">1.5</text>
<line x1="296" y1="411.9" x2="298.4" y2="411.9" stroke="#000" stroke-width="1.2"/>
<text transform="matrix(1.0914,0,0,1,282.556,414.917)" font-size="8.310" font-weight="bold" fill="#000">1.0</text>
<line x1="296" y1="437.8" x2="298.4" y2="437.8" stroke="#000" stroke-width="1.2"/>
<text transform="matrix(1.0666,0,0,1,282.745,440.817)" font-size="8.310" font-weight="bold" fill="#000">0.5</text>
<line x1="296" y1="463.7" x2="298.4" y2="463.7" stroke="#000" stroke-width="1.2"/>
<text transform="matrix(1.0748,0,0,1,282.743,466.717)" font-size="8.310" font-weight="bold" fill="#000">0.0</text>
<text transform="matrix(0,-1.0970,1,0,278.856,464.202)" font-size="9.255" font-weight="bold" fill="#000">Target protein/GAPDH</text>
<rect x="303.8" y="350.8" width="9.2" height="5.9" fill="#000"/>
<text transform="matrix(0.9680,0,0,1,318.365,356.714)" font-size="8.649" font-weight="bold" fill="#000">Control</text>
<rect x="303.8" y="359.2" width="9.2" height="6.2" fill="#0000ff"/>
<text transform="matrix(1.0054,0,0,1,318.363,365.316)" font-size="8.378" font-weight="bold" fill="#000">Orexin A</text>
<rect x="303.8" y="368.1" width="9.2" height="6.3" fill="#00ee00"/>
<text transform="matrix(0.9846,0,0,1,318.365,374.315)" font-size="8.514" font-weight="bold" fill="#000">Orexin B</text>
<rect x="305.2" y="411.8" width="13.600000000000023" height="51.80000000000001" fill="#000"/>
<line x1="312.0" y1="411.8" x2="312.0" y2="410" stroke="#666" stroke-width="1"/>
<line x1="308.7" y1="410" x2="315.3" y2="410" stroke="#666" stroke-width="1"/>
<rect x="325.6" y="394.6" width="13.299999999999955" height="69.0" fill="#0000ff"/>
<line x1="332.25" y1="394.6" x2="332.25" y2="391.2" stroke="#3030ff" stroke-width="1"/>
<line x1="329.0" y1="391.2" x2="335.5" y2="391.2" stroke="#3030ff" stroke-width="1"/>
<rect x="346" y="398.9" width="13.100000000000023" height="64.70000000000005" fill="#00ee00"/>
<line x1="352.55" y1="398.9" x2="352.55" y2="397.3" stroke="#60e060" stroke-width="1"/>
<line x1="349.15000000000003" y1="397.3" x2="355.95" y2="397.3" stroke="#60e060" stroke-width="1"/>
<rect x="379.9" y="412.1" width="13.100000000000023" height="51.5" fill="#000"/>
<line x1="386.45" y1="412.1" x2="386.45" y2="407.9" stroke="#666" stroke-width="1"/>
<line x1="383.3" y1="407.9" x2="389.59999999999997" y2="407.9" stroke="#666" stroke-width="1"/>
<rect x="400.1" y="391.2" width="13.0" height="72.40000000000003" fill="#0000ff"/>
<line x1="406.6" y1="391.2" x2="406.6" y2="387.3" stroke="#3030ff" stroke-width="1"/>
<line x1="403.35" y1="387.3" x2="409.85" y2="387.3" stroke="#3030ff" stroke-width="1"/>
<rect x="420" y="383.1" width="13.600000000000023" height="80.5" fill="#00ee00"/>
<line x1="426.8" y1="383.1" x2="426.8" y2="378.3" stroke="#40e040" stroke-width="1"/>
<line x1="423.65000000000003" y1="378.3" x2="429.95" y2="378.3" stroke="#40e040" stroke-width="1"/>
<text transform="matrix(1.0698,0,0,1,329.800,393.665)" font-size="12.703" font-weight="bold" fill="#000">*</text>
<text transform="matrix(1.0475,0,0,1,350.200,399.851)" font-size="12.973" font-weight="bold" fill="#000">*</text>
<text transform="matrix(0.9290,0,0,1,404.500,388.551)" font-size="12.973" font-weight="bold" fill="#000">*</text>
<text transform="matrix(0.9487,0,0,1,424.400,380.565)" font-size="12.703" font-weight="bold" fill="#000">*</text>
<rect x="306.1" y="466.6" width="53.8" height="1.8" fill="#000"/>
<rect x="380" y="466.6" width="51.3" height="1.8" fill="#000"/>
<text transform="matrix(1.0144,0,0,1,321.111,477.304)" font-size="9.577" font-weight="bold" fill="#000">ORX</text>
<text transform="matrix(1.0658,0,0,1,389.092,477.304)" font-size="9.577" font-weight="bold" fill="#000">ORXR2</text>
<text transform="matrix(1.1881,0,0,1,455.460,354.672)" font-size="13.467" font-weight="bold" fill="#000">g</text>
<line x1="478.6" y1="376.4" x2="478.6" y2="468.6" stroke="#000" stroke-width="1.3"/>
<line x1="476.4" y1="376.95" x2="478.6" y2="376.95" stroke="#000" stroke-width="1.1"/>
<text transform="matrix(1.0094,0,0,1,464.865,379.773)" font-size="7.746" font-weight="bold" fill="#000">2.5</text>
<line x1="476.4" y1="395.2" x2="478.6" y2="395.2" stroke="#000" stroke-width="1.1"/>
<text transform="matrix(1.0171,0,0,1,464.864,398.023)" font-size="7.746" font-weight="bold" fill="#000">2.0</text>
<line x1="476.4" y1="413.45" x2="478.6" y2="413.45" stroke="#000" stroke-width="1.1"/>
<text transform="matrix(1.0182,0,0,1,464.620,416.271)" font-size="7.857" font-weight="bold" fill="#000">1.5</text>
<line x1="476.4" y1="431.7" x2="478.6" y2="431.7" stroke="#000" stroke-width="1.1"/>
<text transform="matrix(1.0407,0,0,1,464.616,434.523)" font-size="7.746" font-weight="bold" fill="#000">1.0</text>
<line x1="476.4" y1="449.95" x2="478.6" y2="449.95" stroke="#000" stroke-width="1.1"/>
<text transform="matrix(1.0171,0,0,1,464.785,452.773)" font-size="7.746" font-weight="bold" fill="#000">0.5</text>
<line x1="476.4" y1="468.2" x2="478.6" y2="468.2" stroke="#000" stroke-width="1.1"/>
<text transform="matrix(1.0248,0,0,1,464.782,471.023)" font-size="7.746" font-weight="bold" fill="#000">0.0</text>
<text transform="matrix(0,-1.2923,1,0,461.534,447.699)" font-size="6.622" font-weight="bold" fill="#000">mRNA levels</text>
<rect x="486" y="372.3" width="8.1" height="5.6" fill="#000"/>
<text transform="matrix(0.9644,0,0,1,498.787,378.219)" font-size="8.108" font-weight="bold" fill="#000">Control</text>
<rect x="486" y="381" width="8.1" height="5.8" fill="#0000ff"/>
<text transform="matrix(0.8942,0,0,1,498.791,386.714)" font-size="8.649" font-weight="bold" fill="#000">Orexin A</text>
<rect x="486" y="389.5" width="8.1" height="6.7" fill="#00ee00"/>
<text transform="matrix(0.9129,0,0,1,498.644,396.400)" font-size="10.000" font-weight="normal" fill="#000">Orexin B</text>
<rect x="487.2" y="431.7" width="15.5" height="36.30000000000001" fill="#000"/>
<line x1="494.95" y1="431.7" x2="494.95" y2="421.115" stroke="#111" stroke-width="1.1"/>
<line x1="491.2" y1="421.115" x2="498.7" y2="421.115" stroke="#111" stroke-width="1.1"/>
<text transform="matrix(0.8154,0,0,1,493.113,419.439)" font-size="7.636" font-weight="bold" fill="#000">a</text>
<rect x="505" y="451.775" width="15.700000000000045" height="16.225000000000023" fill="#0000ff"/>
<line x1="512.85" y1="451.775" x2="512.85" y2="444.11" stroke="#111" stroke-width="1.1"/>
<line x1="509.1" y1="444.11" x2="516.6" y2="444.11" stroke="#111" stroke-width="1.1"/>
<text transform="matrix(0.8154,0,0,1,511.013,442.434)" font-size="7.636" font-weight="bold" fill="#000">a</text>
<rect x="523.8" y="456.155" width="15.400000000000091" height="11.845000000000027" fill="#00ee00"/>
<line x1="531.5" y1="456.155" x2="531.5" y2="453.235" stroke="#111" stroke-width="1.1"/>
<line x1="527.75" y1="453.235" x2="535.25" y2="453.235" stroke="#111" stroke-width="1.1"/>
<text transform="matrix(0.8154,0,0,1,529.663,451.559)" font-size="7.636" font-weight="bold" fill="#000">a</text>
<rect x="550.8" y="431.7" width="15.600000000000023" height="36.30000000000001" fill="#000"/>
<line x1="558.5999999999999" y1="431.7" x2="558.5999999999999" y2="415.64" stroke="#111" stroke-width="1.1"/>
<line x1="554.8499999999999" y1="415.64" x2="562.3499999999999" y2="415.64" stroke="#111" stroke-width="1.1"/>
<text transform="matrix(0.8154,0,0,1,556.763,413.964)" font-size="7.636" font-weight="bold" fill="#000">a</text>
<rect x="569" y="439.0" width="15.899999999999977" height="29.0" fill="#0000ff"/>
<line x1="576.95" y1="439.0" x2="576.95" y2="428.41499999999996" stroke="#111" stroke-width="1.1"/>
<line x1="573.2" y1="428.41499999999996" x2="580.7" y2="428.41499999999996" stroke="#111" stroke-width="1.1"/>
<text transform="matrix(0.8154,0,0,1,575.113,426.739)" font-size="7.636" font-weight="bold" fill="#000">a</text>
<rect x="587.2" y="411.99" width="15.599999999999909" height="56.00999999999999" fill="#00ee00"/>
<line x1="595.0" y1="411.99" x2="595.0" y2="391.91499999999996" stroke="#111" stroke-width="1.1"/>
<line x1="591.25" y1="391.91499999999996" x2="598.75" y2="391.91499999999996" stroke="#111" stroke-width="1.1"/>
<text transform="matrix(0.8154,0,0,1,593.163,390.239)" font-size="7.636" font-weight="bold" fill="#000">a</text>
<rect x="614.4" y="431.7" width="15.700000000000045" height="36.30000000000001" fill="#000"/>
<line x1="622.25" y1="431.7" x2="622.25" y2="423.378" stroke="#111" stroke-width="1.1"/>
<line x1="618.5" y1="423.378" x2="626.0" y2="423.378" stroke="#111" stroke-width="1.1"/>
<text transform="matrix(0.8154,0,0,1,620.413,421.702)" font-size="7.636" font-weight="bold" fill="#000">a</text>
<rect x="632.8" y="453.59999999999997" width="15.900000000000091" height="14.400000000000034" fill="#0000ff"/>
<line x1="640.75" y1="453.59999999999997" x2="640.75" y2="445.8985" stroke="#111" stroke-width="1.1"/>
<line x1="637.0" y1="445.8985" x2="644.5" y2="445.8985" stroke="#111" stroke-width="1.1"/>
<text transform="matrix(1.1109,0,0,1,636.952,444.039)" font-size="5.946" font-weight="bold" fill="#000">ab</text>
<rect x="651" y="461.0825" width="16" height="6.917500000000018" fill="#00ee00"/>
<line x1="659.0" y1="461.0825" x2="659.0" y2="458.491" stroke="#111" stroke-width="1.1"/>
<line x1="655.25" y1="458.491" x2="662.75" y2="458.491" stroke="#111" stroke-width="1.1"/>
<text transform="matrix(1.0950,0,0,1,656.696,457.191)" font-size="6.575" font-weight="bold" fill="#000">b</text>
<rect x="487.5" y="471.1" width="51.799999999999955" height="1.2" fill="#000"/>
<rect x="550.6" y="471.1" width="52.299999999999955" height="1.2" fill="#000"/>
<rect x="614.4" y="471.1" width="52.10000000000002" height="1.2" fill="#000"/>
<text transform="matrix(0.7499,0,0,1,506.504,481.701)" font-size="9.859" font-weight="bold" fill="#000">ORX</text>
<text transform="matrix(0.7202,0,0,1,565.916,481.701)" font-size="9.859" font-weight="bold" fill="#000">ORXR1</text>
<text transform="matrix(0.7223,0,0,1,628.015,481.701)" font-size="9.859" font-weight="bold" fill="#000">ORXR2</text>
<text transform="matrix(1.8162,0,0,1,257.050,515.200)" font-size="12.192" font-weight="bold" fill="#000">i</text>
<line x1="286.6" y1="542.7" x2="286.6" y2="647.9" stroke="#000" stroke-width="1.4"/>
<line x1="284.3" y1="543.6" x2="286.6" y2="543.6" stroke="#000" stroke-width="1.2"/>
<text transform="matrix(1.2730,0,0,1,268.477,546.615)" font-size="8.451" font-weight="bold" fill="#000">2.0</text>
<line x1="284.3" y1="569.55" x2="286.6" y2="569.55" stroke="#000" stroke-width="1.2"/>
<text transform="matrix(1.2744,0,0,1,268.145,572.564)" font-size="8.571" font-weight="bold" fill="#000">1.5</text>
<line x1="284.3" y1="595.5" x2="286.6" y2="595.5" stroke="#000" stroke-width="1.2"/>
<text transform="matrix(1.3026,0,0,1,268.140,598.515)" font-size="8.451" font-weight="bold" fill="#000">1.0</text>
<line x1="284.3" y1="621.4499999999999" x2="286.6" y2="621.4499999999999" stroke="#000" stroke-width="1.2"/>
<text transform="matrix(1.2730,0,0,1,268.370,624.465)" font-size="8.451" font-weight="bold" fill="#000">0.5</text>
<line x1="284.3" y1="647.4" x2="286.6" y2="647.4" stroke="#000" stroke-width="1.2"/>
<text transform="matrix(1.2827,0,0,1,268.366,650.415)" font-size="8.451" font-weight="bold" fill="#000">0.0</text>
<text transform="matrix(0,-1.2664,1,0,261.456,649.317)" font-size="9.255" font-weight="bold" fill="#000">Target protein /actin</text>
<text transform="matrix(1.1943,0,0,1,294.980,536.790)" font-size="8.617" font-weight="bold" fill="#000">rORX-A (nM)</text>
<rect x="294.9" y="541.3" width="11" height="6.8" fill="#00ee11"/>
<text transform="matrix(1.0458,0,0,1,312.417,548.008)" font-size="9.155" font-weight="bold" fill="#000">0</text>
<rect x="294.9" y="550" width="11" height="6.8" fill="#5599ee"/>
<text transform="matrix(1.0290,0,0,1,312.300,556.603)" font-size="9.718" font-weight="bold" fill="#000">10</text>
<rect x="294.9" y="559.4" width="11" height="6.9" fill="#fbb67f"/>
<text transform="matrix(1.0486,0,0,1,312.289,566.203)" font-size="9.718" font-weight="bold" fill="#000">100</text>
<rect x="291.7" y="595.4" width="10.100000000000023" height="52.200000000000045" fill="#00ee11"/>
<line x1="292.9" y1="595.1" x2="300.6" y2="595.1" stroke="#00ee11" stroke-width="0.7"/>
<rect x="306.4" y="596.1" width="9.800000000000011" height="51.5" fill="#5599ee"/>
<line x1="307.59999999999997" y1="595.8000000000001" x2="315.0" y2="595.8000000000001" stroke="#5599ee" stroke-width="0.7"/>
<rect x="321.3" y="614.2" width="9.699999999999989" height="33.39999999999998" fill="#fbb67f"/>
<line x1="322.5" y1="613.9000000000001" x2="329.8" y2="613.9000000000001" stroke="#fbb67f" stroke-width="0.7"/>
<rect x="346" y="595.3" width="9.699999999999989" height="52.30000000000007" fill="#00ee11"/>
<line x1="347.2" y1="595.0" x2="354.5" y2="595.0" stroke="#00ee11" stroke-width="0.7"/>
<rect x="360.7" y="581.1" width="9.900000000000034" height="66.5" fill="#5599ee"/>
<line x1="361.9" y1="580.8000000000001" x2="369.40000000000003" y2="580.8000000000001" stroke="#5599ee" stroke-width="0.7"/>
<rect x="375.3" y="608.1" width="9.899999999999977" height="39.5" fill="#fbb67f"/>
<line x1="376.5" y1="607.8000000000001" x2="384.0" y2="607.8000000000001" stroke="#fbb67f" stroke-width="0.7"/>
<rect x="400.1" y="595.3" width="9.699999999999989" height="52.30000000000007" fill="#00ee11"/>
<line x1="401.3" y1="595.0" x2="408.6" y2="595.0" stroke="#00ee11" stroke-width="0.7"/>
<rect x="414.9" y="559.9" width="9.900000000000034" height="87.70000000000005" fill="#5599ee"/>
<line x1="416.09999999999997" y1="559.6" x2="423.6" y2="559.6" stroke="#5599ee" stroke-width="0.7"/>
<rect x="429.5" y="587.8" width="9.699999999999989" height="59.80000000000007" fill="#fbb67f"/>
<line x1="430.7" y1="587.5" x2="438.0" y2="587.5" stroke="#fbb67f" stroke-width="0.7"/>
<text transform="matrix(0.9852,0,0,1,323.700,615.797)" font-size="14.054" font-weight="bold" fill="#000">*</text>
<text transform="matrix(1.0005,0,0,1,363.200,582.757)" font-size="14.865" font-weight="bold" fill="#000">*</text>
<text transform="matrix(0.9028,0,0,1,377.700,610.762)" font-size="16.757" font-weight="bold" fill="#000">*</text>
<text transform="matrix(0.8584,0,0,1,417.200,563.049)" font-size="17.027" font-weight="bold" fill="#000">*</text>
<text transform="matrix(0.8734,0,0,1,431.800,590.449)" font-size="17.027" font-weight="bold" fill="#000">*</text>
<text transform="matrix(1.0616,0,0,1,301.381,657.421)" font-size="7.887" font-weight="normal" fill="#000">ORX</text>
<text transform="matrix(1.0305,0,0,1,352.179,657.618)" font-size="8.169" font-weight="normal" fill="#000">ORXR1</text>
<text transform="matrix(1.0634,0,0,1,405.466,657.618)" font-size="8.169" font-weight="normal" fill="#000">ORXR2</text>
<text transform="matrix(1.3320,0,0,1,465.083,520.184)" font-size="14.362" font-weight="bold" fill="#000">j</text>
<line x1="495.7" y1="532.8" x2="495.7" y2="653" stroke="#000" stroke-width="1.4"/>
<line x1="493.4" y1="533.3" x2="495.7" y2="533.3" stroke="#000" stroke-width="1.2"/>
<text transform="matrix(1.2232,0,0,1,477.180,536.513)" font-size="8.732" font-weight="bold" fill="#000">2.0</text>
<line x1="493.4" y1="563.1" x2="495.7" y2="563.1" stroke="#000" stroke-width="1.2"/>
<text transform="matrix(1.2246,0,0,1,476.849,566.311)" font-size="8.857" font-weight="bold" fill="#000">1.5</text>
<line x1="493.4" y1="592.9" x2="495.7" y2="592.9" stroke="#000" stroke-width="1.2"/>
<text transform="matrix(1.2517,0,0,1,476.844,596.113)" font-size="8.732" font-weight="bold" fill="#000">1.0</text>
<line x1="493.4" y1="622.7" x2="495.7" y2="622.7" stroke="#000" stroke-width="1.2"/>
<text transform="matrix(1.2232,0,0,1,477.073,625.913)" font-size="8.732" font-weight="bold" fill="#000">0.5</text>
<line x1="493.4" y1="652.5" x2="495.7" y2="652.5" stroke="#000" stroke-width="1.2"/>
<text transform="matrix(1.2326,0,0,1,477.069,655.713)" font-size="8.732" font-weight="bold" fill="#000">0.0</text>
<text transform="matrix(0,-1.2274,1,0,472.018,621.908)" font-size="8.243" font-weight="bold" fill="#000">mRNA levels</text>
<text transform="matrix(1.2333,0,0,1,592.065,531.413)" font-size="8.511" font-weight="bold" fill="#000">rORX-A (nM)</text>
<rect x="618.2" y="538.1" width="12" height="5.3" fill="#00ee11"/>
<text transform="matrix(1.2737,0,0,1,636.334,543.328)" font-size="7.183" font-weight="bold" fill="#000">0</text>
<rect x="618.2" y="547.3" width="12" height="5.4" fill="#5599ee"/>
<text transform="matrix(1.2107,0,0,1,636.148,552.624)" font-size="7.606" font-weight="bold" fill="#000">10</text>
<rect x="618.2" y="556.5" width="12" height="5.5" fill="#fbb67f"/>
<text transform="matrix(1.1758,0,0,1,636.154,561.923)" font-size="7.746" font-weight="bold" fill="#000">100</text>
<rect x="503.2" y="593.2" width="9.800000000000011" height="59.0" fill="#00ee11"/>
<line x1="508.1" y1="593.2" x2="508.1" y2="586.5" stroke="#6de86d" stroke-width="1.1"/>
<line x1="505.70000000000005" y1="586.5" x2="510.5" y2="586.5" stroke="#6de86d" stroke-width="1.1"/>
<rect x="518.1" y="559.5" width="9.899999999999977" height="92.70000000000005" fill="#5599ee"/>
<line x1="523.05" y1="559.5" x2="523.05" y2="553.2" stroke="#7fb3f0" stroke-width="1.1"/>
<line x1="520.65" y1="553.2" x2="525.4499999999999" y2="553.2" stroke="#7fb3f0" stroke-width="1.1"/>
<rect x="533" y="597.8" width="9.600000000000023" height="54.40000000000009" fill="#fbb67f"/>
<line x1="537.8" y1="597.8" x2="537.8" y2="592.8" stroke="#f4b98a" stroke-width="1.1"/>
<line x1="535.4" y1="592.8" x2="540.1999999999999" y2="592.8" stroke="#f4b98a" stroke-width="1.1"/>
<rect x="557.3" y="593.2" width="9.600000000000023" height="59.0" fill="#00ee11"/>
<line x1="562.0999999999999" y1="593.2" x2="562.0999999999999" y2="587.3" stroke="#6de86d" stroke-width="1.1"/>
<line x1="559.6999999999999" y1="587.3" x2="564.4999999999999" y2="587.3" stroke="#6de86d" stroke-width="1.1"/>
<rect x="572.2" y="565" width="9.599999999999909" height="87.20000000000005" fill="#5599ee"/>
<line x1="577.0" y1="565" x2="577.0" y2="558.7" stroke="#7fb3f0" stroke-width="1.1"/>
<line x1="574.6" y1="558.7" x2="579.4" y2="558.7" stroke="#7fb3f0" stroke-width="1.1"/>
<rect x="586.8" y="584.1" width="9.400000000000091" height="68.10000000000002" fill="#fbb67f"/>
<line x1="591.5" y1="584.1" x2="591.5" y2="577.5" stroke="#f4b98a" stroke-width="1.1"/>
<line x1="589.1" y1="577.5" x2="593.9" y2="577.5" stroke="#f4b98a" stroke-width="1.1"/>
<rect x="611.2" y="593.2" width="9.599999999999909" height="59.0" fill="#00ee11"/>
<line x1="616.0" y1="593.2" x2="616.0" y2="589.5" stroke="#6de86d" stroke-width="1.1"/>
<line x1="613.6" y1="589.5" x2="618.4" y2="589.5" stroke="#6de86d" stroke-width="1.1"/>
<rect x="626" y="577.6" width="9.799999999999955" height="74.60000000000002" fill="#5599ee"/>
<line x1="630.9" y1="577.6" x2="630.9" y2="573" stroke="#7fb3f0" stroke-width="1.1"/>
<line x1="628.5" y1="573" x2="633.3" y2="573" stroke="#7fb3f0" stroke-width="1.1"/>
<rect x="641" y="591.3" width="9.5" height="60.90000000000009" fill="#fbb67f"/>
<line x1="645.75" y1="591.3" x2="645.75" y2="585.4" stroke="#f4b98a" stroke-width="1.1"/>
<line x1="643.35" y1="585.4" x2="648.15" y2="585.4" stroke="#f4b98a" stroke-width="1.1"/>
<text transform="matrix(1.0295,0,0,1,520.900,553.465)" font-size="12.703" font-weight="bold" fill="#000">*</text>
<text transform="matrix(1.0295,0,0,1,574.500,560.365)" font-size="12.703" font-weight="bold" fill="#000">*</text>
<text transform="matrix(1.1196,0,0,1,513.753,660.923)" font-size="7.746" font-weight="bold" fill="#000">ORX</text>
<text transform="matrix(1.0885,0,0,1,561.863,660.923)" font-size="7.746" font-weight="bold" fill="#000">ORXR1</text>
<text transform="matrix(1.1147,0,0,1,615.955,660.923)" font-size="7.746" font-weight="bold" fill="#000">ORXR2</text>
<text transform="matrix(1.1075,0,0,1,254.800,716.700)" font-size="15.479" font-weight="bold" fill="#000">l</text>
<line x1="289.9" y1="741.2" x2="289.9" y2="844.9" stroke="#000" stroke-width="1.4"/>
<line x1="287.5" y1="741.5999999999999" x2="289.9" y2="741.5999999999999" stroke="#000" stroke-width="1.2"/>
<text transform="matrix(1.1324,0,0,1,271.884,744.907)" font-size="9.296" font-weight="bold" fill="#000">2.5</text>
<line x1="287.5" y1="762.14" x2="289.9" y2="762.14" stroke="#000" stroke-width="1.2"/>
<text transform="matrix(1.1410,0,0,1,271.882,765.447)" font-size="9.296" font-weight="bold" fill="#000">2.0</text>
<line x1="287.5" y1="782.68" x2="289.9" y2="782.68" stroke="#000" stroke-width="1.2"/>
<text transform="matrix(1.1422,0,0,1,271.554,785.986)" font-size="9.429" font-weight="bold" fill="#000">1.5</text>
<line x1="287.5" y1="803.2199999999999" x2="289.9" y2="803.2199999999999" stroke="#000" stroke-width="1.2"/>
<text transform="matrix(1.1675,0,0,1,271.549,806.527)" font-size="9.296" font-weight="bold" fill="#000">1.0</text>
<line x1="287.5" y1="823.76" x2="289.9" y2="823.76" stroke="#000" stroke-width="1.2"/>
<text transform="matrix(1.1410,0,0,1,271.776,827.067)" font-size="9.296" font-weight="bold" fill="#000">0.5</text>
<line x1="287.5" y1="844.3" x2="289.9" y2="844.3" stroke="#000" stroke-width="1.2"/>
<text transform="matrix(1.1497,0,0,1,271.773,847.607)" font-size="9.296" font-weight="bold" fill="#000">0.0</text>
<text transform="matrix(0,-1.2272,1,0,265.534,846.015)" font-size="9.362" font-weight="bold" fill="#000">Target protein /actin</text>
<text transform="matrix(1.3555,0,0,1,385.083,745.214)" font-size="7.553" font-weight="bold" fill="#000">rORX-B (nM)</text>
<rect x="385.8" y="750.7" width="10.7" height="6.6" fill="#00ee11"/>
<text transform="matrix(1.1444,0,0,1,402.374,757.207)" font-size="9.296" font-weight="bold" fill="#000">0</text>
<rect x="385.8" y="759.8" width="10.7" height="6.6" fill="#5599ee"/>
<text transform="matrix(1.0864,0,0,1,402.194,766.307)" font-size="9.296" font-weight="bold" fill="#000">10</text>
<rect x="385.8" y="769.2" width="10.7" height="6.6" fill="#fbb67f"/>
<text transform="matrix(1.1306,0,0,1,402.169,775.707)" font-size="9.296" font-weight="bold" fill="#000">100</text>
<rect x="294.7" y="803.5" width="9.800000000000011" height="40.700000000000045" fill="#00ee11"/>
<line x1="295.9" y1="803.2" x2="303.3" y2="803.2" stroke="#00ee11" stroke-width="0.7"/>
<rect x="309.2" y="801.3" width="9.699999999999989" height="42.90000000000009" fill="#5599ee"/>
<line x1="310.4" y1="801.0" x2="317.7" y2="801.0" stroke="#5599ee" stroke-width="0.7"/>
<rect x="323.9" y="757.8" width="9.200000000000045" height="86.40000000000009" fill="#fbb67f"/>
<line x1="325.09999999999997" y1="757.5" x2="331.90000000000003" y2="757.5" stroke="#fbb67f" stroke-width="0.7"/>
<rect x="347.8" y="803.7" width="9.5" height="40.5" fill="#00ee11"/>
<line x1="349.0" y1="803.4000000000001" x2="356.1" y2="803.4000000000001" stroke="#00ee11" stroke-width="0.7"/>
<rect x="362.3" y="798.1" width="9.599999999999966" height="46.10000000000002" fill="#5599ee"/>
<line x1="363.5" y1="797.8000000000001" x2="370.7" y2="797.8000000000001" stroke="#5599ee" stroke-width="0.7"/>
<rect x="376.9" y="795.1" width="9.400000000000034" height="49.10000000000002" fill="#fbb67f"/>
<line x1="378.09999999999997" y1="794.8000000000001" x2="385.1" y2="794.8000000000001" stroke="#fbb67f" stroke-width="0.7"/>
<rect x="400.4" y="803.7" width="9.400000000000034" height="40.5" fill="#00ee11"/>
<line x1="401.59999999999997" y1="803.4000000000001" x2="408.6" y2="803.4000000000001" stroke="#00ee11" stroke-width="0.7"/>
<rect x="415" y="798.6" width="9.800000000000011" height="45.60000000000002" fill="#5599ee"/>
<line x1="416.2" y1="798.3000000000001" x2="423.6" y2="798.3000000000001" stroke="#5599ee" stroke-width="0.7"/>
<rect x="429.8" y="800.6" width="9.399999999999977" height="43.60000000000002" fill="#fbb67f"/>
<line x1="431.0" y1="800.3000000000001" x2="438.0" y2="800.3000000000001" stroke="#fbb67f" stroke-width="0.7"/>
<text transform="matrix(0.9148,0,0,1,325.900,759.743)" font-size="15.135" font-weight="bold" fill="#000">*</text>
<text transform="matrix(0.9663,0,0,1,364.300,800.070)" font-size="14.595" font-weight="bold" fill="#000">*</text>
<text transform="matrix(0.8734,0,0,1,378.900,798.549)" font-size="17.027" font-weight="bold" fill="#000">*</text>
<text transform="matrix(0.9142,0,0,1,416.600,800.957)" font-size="14.865" font-weight="bold" fill="#000">*</text>
<text transform="matrix(1.0843,0,0,1,304.870,853.224)" font-size="7.606" font-weight="bold" fill="#000">ORX</text>
<text transform="matrix(1.0068,0,0,1,354.571,853.118)" font-size="8.169" font-weight="bold" fill="#000">ORXR1</text>
<text transform="matrix(1.0098,0,0,1,406.870,853.118)" font-size="8.169" font-weight="bold" fill="#000">ORXR2</text>
<text transform="matrix(1.0965,0,0,1,478.949,716.800)" font-size="15.000" font-weight="bold" fill="#000">m</text>
<line x1="502.2" y1="731.4" x2="502.2" y2="847.2" stroke="#000" stroke-width="1.4"/>
<line x1="499.9" y1="732.2" x2="502.2" y2="732.2" stroke="#000" stroke-width="1.2"/>
<text transform="matrix(1.2750,0,0,1,484.309,734.924)" font-size="7.606" font-weight="bold" fill="#000">2.0</text>
<line x1="499.9" y1="760.8" x2="502.2" y2="760.8" stroke="#000" stroke-width="1.2"/>
<text transform="matrix(1.2764,0,0,1,484.009,763.523)" font-size="7.714" font-weight="bold" fill="#000">1.5</text>
<line x1="499.9" y1="789.4" x2="502.2" y2="789.4" stroke="#000" stroke-width="1.2"/>
<text transform="matrix(1.3046,0,0,1,484.005,792.124)" font-size="7.606" font-weight="bold" fill="#000">1.0</text>
<line x1="499.9" y1="818.0" x2="502.2" y2="818.0" stroke="#000" stroke-width="1.2"/>
<text transform="matrix(1.2750,0,0,1,484.212,820.724)" font-size="7.606" font-weight="bold" fill="#000">0.5</text>
<line x1="499.9" y1="846.6" x2="502.2" y2="846.6" stroke="#000" stroke-width="1.2"/>
<text transform="matrix(1.2847,0,0,1,484.209,849.324)" font-size="7.606" font-weight="bold" fill="#000">0.0</text>
<text transform="matrix(0,-1.1262,1,0,479.674,814.352)" font-size="7.635" font-weight="bold" fill="#000">mRNA levels</text>
<text transform="matrix(1.3540,0,0,1,588.935,730.326)" font-size="7.021" font-weight="bold" fill="#000">rORX-B (nM)</text>
<rect x="609.1" y="734.1" width="10.7" height="4.8" fill="#00ee11"/>
<text transform="matrix(1.3218,0,0,1,625.643,738.832)" font-size="6.761" font-weight="bold" fill="#000">0</text>
<rect x="609.1" y="741" width="10.7" height="4.7" fill="#5599ee"/>
<text transform="matrix(1.2564,0,0,1,625.501,745.634)" font-size="6.620" font-weight="bold" fill="#000">10</text>
<rect x="609.1" y="747.9" width="10.7" height="4.8" fill="#fbb67f"/>
<text transform="matrix(1.2436,0,0,1,625.496,752.632)" font-size="6.761" font-weight="bold" fill="#000">100</text>
<rect x="508.5" y="789.5" width="9.0" height="56.89999999999998" fill="#00ee11"/>
<line x1="513.0" y1="789.5" x2="513.0" y2="783.6" stroke="#6de86d" stroke-width="0.9"/>
<line x1="510.9" y1="783.6" x2="515.1" y2="783.6" stroke="#6de86d" stroke-width="0.9"/>
<rect x="522.1" y="794.6" width="9.0" height="51.799999999999955" fill="#5599ee"/>
<line x1="526.6" y1="794.6" x2="526.6" y2="790.1" stroke="#7fb3f0" stroke-width="0.9"/>
<line x1="524.5" y1="790.1" x2="528.7" y2="790.1" stroke="#7fb3f0" stroke-width="0.9"/>
<rect x="535.4" y="810.3" width="8.700000000000045" height="36.10000000000002" fill="#fbb67f"/>
<line x1="539.75" y1="810.3" x2="539.75" y2="804.5" stroke="#f4b98a" stroke-width="0.9"/>
<line x1="537.65" y1="804.5" x2="541.85" y2="804.5" stroke="#f4b98a" stroke-width="0.9"/>
<rect x="557.5" y="789.5" width="9.0" height="56.89999999999998" fill="#00ee11"/>
<line x1="562.0" y1="789.5" x2="562.0" y2="785.4" stroke="#6de86d" stroke-width="0.9"/>
<line x1="559.9" y1="785.4" x2="564.1" y2="785.4" stroke="#6de86d" stroke-width="0.9"/>
<rect x="571" y="765.9" width="9" height="80.5" fill="#5599ee"/>
<line x1="575.5" y1="765.9" x2="575.5" y2="754.3" stroke="#7fb3f0" stroke-width="0.9"/>
<line x1="573.4" y1="754.3" x2="577.6" y2="754.3" stroke="#7fb3f0" stroke-width="0.9"/>
<rect x="584.5" y="814.8" width="8.899999999999977" height="31.600000000000023" fill="#fbb67f"/>
<line x1="588.95" y1="814.8" x2="588.95" y2="803.3" stroke="#f4b98a" stroke-width="0.9"/>
<line x1="586.85" y1="803.3" x2="591.0500000000001" y2="803.3" stroke="#f4b98a" stroke-width="0.9"/>
<rect x="606.7" y="789.6" width="8.899999999999977" height="56.799999999999955" fill="#00ee11"/>
<line x1="611.1500000000001" y1="789.6" x2="611.1500000000001" y2="786" stroke="#6de86d" stroke-width="0.9"/>
<line x1="609.0500000000001" y1="786" x2="613.2500000000001" y2="786" stroke="#6de86d" stroke-width="0.9"/>
<rect x="620.4" y="767.6" width="8.899999999999977" height="78.79999999999995" fill="#5599ee"/>
<line x1="624.8499999999999" y1="767.6" x2="624.8499999999999" y2="765.4" stroke="#7fb3f0" stroke-width="0.9"/>
<line x1="622.7499999999999" y1="765.4" x2="626.9499999999999" y2="765.4" stroke="#7fb3f0" stroke-width="0.9"/>
<rect x="633.4" y="805" width="9.300000000000068" height="41.39999999999998" fill="#fbb67f"/>
<line x1="638.05" y1="805" x2="638.05" y2="793" stroke="#f4b98a" stroke-width="0.9"/>
<line x1="635.9499999999999" y1="793" x2="640.15" y2="793" stroke="#f4b98a" stroke-width="0.9"/>
<text transform="matrix(1.0963,0,0,1,538.100,806.892)" font-size="12.162" font-weight="bold" fill="#000">*</text>
<text transform="matrix(1.0312,0,0,1,622.300,766.978)" font-size="12.432" font-weight="bold" fill="#000">*</text>
<text transform="matrix(1.0857,0,0,1,517.276,854.825)" font-size="7.465" font-weight="bold" fill="#000">ORX</text>
<text transform="matrix(1.0701,0,0,1,561.680,854.825)" font-size="7.465" font-weight="bold" fill="#000">ORXR1</text>
<text transform="matrix(1.0971,0,0,1,610.672,854.825)" font-size="7.465" font-weight="bold" fill="#000">ORXR2</text>
</svg>
</body></html>
